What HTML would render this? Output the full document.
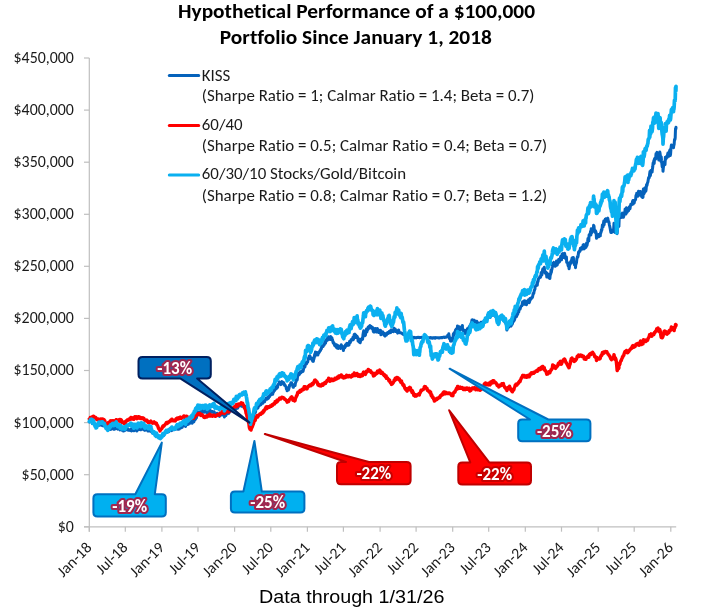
<!DOCTYPE html>
<html><head><meta charset="utf-8"><title>Hypothetical Performance</title>
<style>html,body{margin:0;padding:0;background:#fff;}svg text{font-variant-ligatures:none;font-feature-settings:"liga" 0,"clig" 0;}body{width:702px;height:612px;position:relative;overflow:hidden;}</style>
</head><body>
<svg width="702" height="612" viewBox="0 0 702 612" style="position:absolute;left:0;top:0;will-change:transform">
<defs><filter id="gb" x="-20%" y="-40%" width="140%" height="180%"><feGaussianBlur stdDeviation="0.75"/></filter></defs>
<g stroke="#bfbfbf" stroke-width="1.2" fill="none" shape-rendering="auto">
<line x1="89.3" y1="58.0" x2="89.3" y2="531.8"/>
<line x1="84.0" y1="526.8" x2="676.2" y2="526.8"/>
<line x1="84.0" y1="526.8" x2="89.3" y2="526.8"/>
<line x1="84.0" y1="474.7" x2="89.3" y2="474.7"/>
<line x1="84.0" y1="422.6" x2="89.3" y2="422.6"/>
<line x1="84.0" y1="370.5" x2="89.3" y2="370.5"/>
<line x1="84.0" y1="318.4" x2="89.3" y2="318.4"/>
<line x1="84.0" y1="266.3" x2="89.3" y2="266.3"/>
<line x1="84.0" y1="214.3" x2="89.3" y2="214.3"/>
<line x1="84.0" y1="162.2" x2="89.3" y2="162.2"/>
<line x1="84.0" y1="110.1" x2="89.3" y2="110.1"/>
<line x1="84.0" y1="58.0" x2="89.3" y2="58.0"/>
<line x1="89.3" y1="526.8" x2="89.3" y2="531.7"/>
<line x1="125.3" y1="526.8" x2="125.3" y2="531.7"/>
<line x1="161.9" y1="526.8" x2="161.9" y2="531.7"/>
<line x1="198.0" y1="526.8" x2="198.0" y2="531.7"/>
<line x1="234.6" y1="526.8" x2="234.6" y2="531.7"/>
<line x1="270.8" y1="526.8" x2="270.8" y2="531.7"/>
<line x1="307.4" y1="526.8" x2="307.4" y2="531.7"/>
<line x1="343.4" y1="526.8" x2="343.4" y2="531.7"/>
<line x1="380.1" y1="526.8" x2="380.1" y2="531.7"/>
<line x1="416.1" y1="526.8" x2="416.1" y2="531.7"/>
<line x1="452.7" y1="526.8" x2="452.7" y2="531.7"/>
<line x1="488.7" y1="526.8" x2="488.7" y2="531.7"/>
<line x1="525.3" y1="526.8" x2="525.3" y2="531.7"/>
<line x1="561.5" y1="526.8" x2="561.5" y2="531.7"/>
<line x1="598.2" y1="526.8" x2="598.2" y2="531.7"/>
<line x1="634.2" y1="526.8" x2="634.2" y2="531.7"/>
<line x1="670.8" y1="526.8" x2="670.8" y2="531.7"/>
</g>
<g font-family="Carlito, 'Liberation Sans', sans-serif" font-size="15.5" fill="#1a1a1a">
<text transform="translate(73.9,531.7)" text-anchor="end" textLength="16.13" lengthAdjust="spacingAndGlyphs">$0</text>
<text transform="translate(73.9,479.6)" text-anchor="end" textLength="52.34" lengthAdjust="spacingAndGlyphs">$50,000</text>
<text transform="translate(73.9,427.5)" text-anchor="end" textLength="60.39" lengthAdjust="spacingAndGlyphs">$100,000</text>
<text transform="translate(73.9,375.4)" text-anchor="end" textLength="60.39" lengthAdjust="spacingAndGlyphs">$150,000</text>
<text transform="translate(73.9,323.3)" text-anchor="end" textLength="60.39" lengthAdjust="spacingAndGlyphs">$200,000</text>
<text transform="translate(73.9,271.2)" text-anchor="end" textLength="60.39" lengthAdjust="spacingAndGlyphs">$250,000</text>
<text transform="translate(73.9,219.2)" text-anchor="end" textLength="60.39" lengthAdjust="spacingAndGlyphs">$300,000</text>
<text transform="translate(73.9,167.1)" text-anchor="end" textLength="60.39" lengthAdjust="spacingAndGlyphs">$350,000</text>
<text transform="translate(73.9,115.0)" text-anchor="end" textLength="60.39" lengthAdjust="spacingAndGlyphs">$400,000</text>
<text transform="translate(73.9,62.9)" text-anchor="end" textLength="60.39" lengthAdjust="spacingAndGlyphs">$450,000</text>
<text transform="translate(92.5,548.5) rotate(-45)" text-anchor="end" textLength="41.38" lengthAdjust="spacingAndGlyphs">Jan-18</text>
<text transform="translate(128.5,548.5) rotate(-45)" text-anchor="end" textLength="37.48" lengthAdjust="spacingAndGlyphs">Jul-18</text>
<text transform="translate(165.1,548.5) rotate(-45)" text-anchor="end" textLength="41.38" lengthAdjust="spacingAndGlyphs">Jan-19</text>
<text transform="translate(201.2,548.5) rotate(-45)" text-anchor="end" textLength="37.48" lengthAdjust="spacingAndGlyphs">Jul-19</text>
<text transform="translate(237.8,548.5) rotate(-45)" text-anchor="end" textLength="41.38" lengthAdjust="spacingAndGlyphs">Jan-20</text>
<text transform="translate(274.0,548.5) rotate(-45)" text-anchor="end" textLength="37.48" lengthAdjust="spacingAndGlyphs">Jul-20</text>
<text transform="translate(310.6,548.5) rotate(-45)" text-anchor="end" textLength="41.38" lengthAdjust="spacingAndGlyphs">Jan-21</text>
<text transform="translate(346.6,548.5) rotate(-45)" text-anchor="end" textLength="37.48" lengthAdjust="spacingAndGlyphs">Jul-21</text>
<text transform="translate(383.2,548.5) rotate(-45)" text-anchor="end" textLength="41.38" lengthAdjust="spacingAndGlyphs">Jan-22</text>
<text transform="translate(419.3,548.5) rotate(-45)" text-anchor="end" textLength="37.48" lengthAdjust="spacingAndGlyphs">Jul-22</text>
<text transform="translate(455.9,548.5) rotate(-45)" text-anchor="end" textLength="41.38" lengthAdjust="spacingAndGlyphs">Jan-23</text>
<text transform="translate(491.9,548.5) rotate(-45)" text-anchor="end" textLength="37.48" lengthAdjust="spacingAndGlyphs">Jul-23</text>
<text transform="translate(528.5,548.5) rotate(-45)" text-anchor="end" textLength="41.38" lengthAdjust="spacingAndGlyphs">Jan-24</text>
<text transform="translate(564.7,548.5) rotate(-45)" text-anchor="end" textLength="37.48" lengthAdjust="spacingAndGlyphs">Jul-24</text>
<text transform="translate(601.4,548.5) rotate(-45)" text-anchor="end" textLength="41.38" lengthAdjust="spacingAndGlyphs">Jan-25</text>
<text transform="translate(637.4,548.5) rotate(-45)" text-anchor="end" textLength="37.48" lengthAdjust="spacingAndGlyphs">Jul-25</text>
<text transform="translate(674.0,548.5) rotate(-45)" text-anchor="end" textLength="41.38" lengthAdjust="spacingAndGlyphs">Jan-26</text>
</g>
<g fill="none" stroke-width="3.2" stroke-linejoin="round" stroke-linecap="round">
<polyline stroke="#0562bb" stroke-width="3.0" points="89.3,422.0 89.7,421.9 90.0,421.8 90.3,420.9 90.7,421.7 91.0,420.2 91.4,421.5 91.8,420.7 92.1,421.1 92.5,423.8 92.8,421.7 93.0,421.0 93.2,421.9 93.5,421.5 93.8,422.5 94.2,423.3 94.5,423.8 94.9,424.0 95.2,424.7 95.6,424.6 96.0,425.6 96.0,426.0 96.3,424.9 96.7,426.1 97.0,425.4 97.3,425.7 97.7,425.2 98.0,425.6 98.4,424.2 98.8,425.1 99.1,424.6 99.5,425.3 99.8,424.4 100.0,424.0 100.2,424.2 100.5,423.1 100.8,424.5 101.2,424.1 101.5,425.2 101.9,425.3 102.2,424.5 102.6,425.7 103.0,425.6 103.3,425.4 103.7,425.8 104.0,425.5 104.3,425.4 104.7,425.4 105.0,426.0 105.0,426.0 105.4,426.9 105.8,426.8 106.1,427.3 106.5,427.0 106.8,427.7 107.2,426.5 107.5,427.2 107.8,428.0 108.2,426.7 108.5,427.7 108.9,427.8 109.2,428.0 109.6,428.4 110.0,429.3 110.0,428.0 110.3,426.9 110.7,429.6 111.0,429.1 111.3,428.5 111.7,428.4 112.0,428.5 112.4,427.2 112.8,427.8 113.1,428.3 113.5,429.3 113.8,427.8 114.2,428.7 114.5,429.2 114.8,427.7 115.0,428.0 115.2,428.5 115.5,428.6 115.9,428.7 116.2,427.2 116.6,427.3 117.0,428.0 117.3,428.4 117.7,429.1 118.0,427.7 118.3,428.9 118.7,428.0 119.0,427.1 119.4,427.0 119.8,428.4 120.1,429.9 120.5,429.4 120.5,428.5 120.8,428.3 121.2,428.5 121.5,429.1 121.8,430.1 122.2,429.5 122.5,429.9 122.9,430.2 123.2,429.0 123.6,431.1 124.0,429.5 124.3,428.9 124.7,429.3 125.0,429.5 125.3,430.3 125.7,429.6 126.0,428.3 126.4,428.5 126.8,428.9 127.1,429.5 127.5,429.7 127.8,429.0 128.2,430.3 128.5,429.9 128.8,429.9 129.2,430.2 129.6,430.0 129.9,430.3 130.0,429.8 130.2,429.7 130.6,429.3 130.9,429.2 131.3,430.9 131.7,430.9 132.0,429.9 132.3,429.5 132.7,428.8 133.1,429.4 133.4,429.7 133.8,430.8 134.1,430.2 134.4,429.0 134.8,428.5 135.0,429.8 135.2,430.1 135.5,429.5 135.8,428.0 136.2,429.5 136.6,429.0 136.9,430.9 137.2,430.4 137.6,429.9 137.9,429.7 138.3,427.8 138.7,429.1 139.0,428.0 139.3,429.5 139.7,427.9 140.0,429.0 140.1,428.0 140.4,428.9 140.8,429.8 141.1,428.6 141.4,428.2 141.8,429.3 142.2,429.3 142.5,428.7 142.8,428.8 143.2,428.4 143.5,429.0 143.6,428.0 143.9,428.3 144.2,430.0 144.6,430.0 144.9,430.3 145.3,429.9 145.7,429.3 146.0,428.8 146.3,429.8 146.7,429.2 147.1,428.3 147.4,429.9 147.8,430.9 148.0,430.0 148.1,430.6 148.4,431.1 148.8,431.1 149.2,429.7 149.5,430.8 149.8,431.0 150.2,430.6 150.6,429.7 150.9,430.4 151.2,431.0 151.6,432.0 151.9,431.9 152.3,432.9 152.7,432.4 153.0,432.5 153.3,433.4 153.7,433.1 154.1,431.9 154.4,433.8 154.8,433.6 155.1,434.6 155.4,435.5 155.8,435.3 156.2,436.2 156.5,433.5 156.8,434.8 157.0,435.5 157.2,435.6 157.6,435.6 157.9,435.7 158.2,436.7 158.6,436.6 158.9,437.4 159.3,436.2 159.7,436.9 160.0,436.6 160.3,437.5 160.4,438.0 160.7,437.9 161.1,436.7 161.4,436.7 161.8,436.6 162.1,436.5 162.4,435.8 162.8,434.4 163.0,435.0 163.2,434.9 163.5,435.0 163.8,435.4 164.2,433.9 164.6,434.4 164.9,433.5 165.2,433.3 165.6,432.9 165.9,432.0 166.3,431.0 166.7,430.5 167.0,431.5 167.3,432.3 167.7,431.2 168.1,430.8 168.4,430.9 168.8,431.7 169.1,429.8 169.4,430.6 169.8,430.4 170.2,430.0 170.5,428.9 170.7,430.0 170.8,429.1 171.2,429.4 171.6,430.6 171.9,429.0 172.2,428.8 172.6,429.1 172.9,428.9 173.3,428.8 173.7,429.4 174.0,429.7 174.2,429.2 174.3,429.3 174.7,428.7 175.1,429.3 175.4,429.2 175.8,429.1 176.1,428.3 176.4,427.9 176.8,428.1 177.2,427.8 177.5,429.1 177.8,429.1 178.2,429.3 178.6,429.3 178.9,428.8 179.2,428.5 179.2,429.1 179.6,428.7 179.9,427.6 180.3,426.4 180.7,427.1 181.0,427.3 181.3,427.7 181.7,426.5 182.1,427.3 182.4,426.6 182.8,426.2 183.1,425.4 183.4,425.0 183.5,425.6 183.8,424.5 184.2,424.5 184.5,423.8 184.8,425.4 185.2,426.2 185.6,426.4 185.9,425.1 186.2,423.1 186.6,423.5 186.9,423.6 187.3,424.4 187.7,424.5 188.0,423.0 188.3,424.3 188.5,423.5 188.7,423.6 189.1,422.5 189.4,422.0 189.8,422.5 190.1,423.1 190.4,422.9 190.8,421.7 191.2,422.8 191.5,422.2 191.8,421.3 192.2,423.2 192.6,421.8 192.9,422.0 193.2,421.1 193.5,421.4 193.6,421.4 193.9,421.8 194.3,419.5 194.7,420.0 195.0,419.9 195.3,419.2 195.6,419.2 195.7,418.8 196.1,417.5 196.4,418.0 196.8,416.0 197.1,415.8 197.4,413.4 197.7,412.8 197.8,412.1 198.2,412.8 198.5,412.1 198.8,412.2 199.2,413.0 199.6,413.0 199.9,412.0 200.2,412.3 200.6,413.8 200.9,413.6 201.3,411.6 201.7,410.7 202.0,411.8 202.3,410.5 202.7,411.4 203.1,411.2 203.4,411.2 203.8,412.3 204.1,411.2 204.4,410.6 204.8,411.9 205.2,411.1 205.5,410.4 205.8,411.9 206.2,411.7 206.6,410.5 206.9,411.2 207.2,413.3 207.6,412.2 207.9,412.0 208.3,413.3 208.4,412.1 208.7,412.7 209.0,412.2 209.3,412.2 209.7,410.8 210.1,410.3 210.4,411.4 210.8,411.8 211.0,411.0 211.1,412.2 211.4,412.3 211.8,411.5 212.2,411.8 212.5,411.6 212.8,412.1 213.2,412.3 213.6,412.4 213.9,412.0 214.0,413.0 214.2,411.8 214.6,413.8 214.9,414.5 215.3,414.3 215.7,415.0 216.0,415.0 216.3,414.6 216.7,414.4 217.1,413.2 217.4,414.3 217.8,414.1 218.1,415.3 218.4,414.7 218.8,415.3 219.2,415.2 219.5,416.4 219.6,415.3 219.8,414.7 220.2,413.6 220.6,415.2 220.9,414.9 221.2,414.3 221.6,414.8 221.9,414.3 222.3,413.2 222.7,414.6 223.0,414.2 223.3,413.3 223.7,415.4 224.1,415.1 224.4,416.9 224.8,414.7 225.0,413.9 225.1,414.6 225.4,414.6 225.8,415.7 226.2,413.5 226.5,414.0 226.8,413.3 227.2,413.2 227.6,413.6 227.9,412.5 228.0,413.3 228.2,411.6 228.6,413.2 228.9,413.3 229.3,412.1 229.7,411.3 230.0,409.2 230.3,411.0 230.7,411.0 231.1,409.7 231.4,410.5 231.8,409.7 232.1,409.1 232.4,408.7 232.8,409.7 233.2,409.0 233.5,409.0 233.8,408.0 234.2,407.9 234.6,408.0 234.9,407.8 235.0,407.5 235.2,406.8 235.6,407.7 235.9,409.2 236.3,405.5 236.7,407.1 237.0,406.6 237.3,407.9 237.7,408.2 238.1,406.0 238.4,406.2 238.8,406.1 239.0,406.0 239.1,406.0 239.4,405.0 239.8,405.9 240.2,405.6 240.5,405.1 240.8,405.3 241.2,404.2 241.6,405.8 241.9,406.3 242.2,405.2 242.6,404.2 242.9,404.9 243.0,405.0 243.3,405.6 243.7,406.2 244.0,406.6 244.3,407.9 244.7,406.4 245.1,406.4 245.4,406.3 245.8,406.7 246.0,408.0 246.1,407.6 246.4,407.8 246.8,409.5 247.2,413.0 247.5,412.3 247.8,412.9 248.0,414.0 248.2,416.1 248.6,417.2 248.9,417.2 249.2,418.8 249.5,420.0 249.6,419.6 249.9,422.4 250.3,422.0 250.5,423.5 250.7,422.8 251.0,421.5 251.3,421.4 251.7,420.8 252.1,420.8 252.4,420.0 252.5,420.5 252.8,418.6 253.1,418.9 253.4,418.2 253.8,415.5 254.2,413.3 254.4,413.0 254.5,412.2 254.8,412.0 255.2,412.8 255.6,411.6 255.9,409.4 256.2,408.7 256.6,407.8 256.9,407.0 257.3,407.2 257.4,407.5 257.6,408.3 258.0,407.8 258.4,406.6 258.7,405.1 259.1,405.2 259.4,405.5 259.8,404.0 260.1,403.8 260.4,404.6 260.5,404.5 260.8,404.9 261.1,404.3 261.5,403.4 261.9,402.9 262.2,402.9 262.6,401.9 262.9,403.2 263.2,401.6 263.6,400.1 263.9,401.4 264.2,400.5 264.3,400.0 264.6,401.8 265.0,400.4 265.4,400.0 265.7,399.3 266.1,398.2 266.4,397.9 266.8,399.1 266.8,398.5 267.1,399.2 267.4,398.9 267.8,398.0 268.1,398.5 268.3,397.3 268.5,398.3 268.9,396.2 269.2,396.1 269.6,396.6 269.9,395.4 270.2,394.5 270.6,394.0 270.9,394.0 271.3,394.7 271.6,393.8 272.0,392.7 272.4,392.6 272.6,393.0 272.7,394.2 273.1,391.7 273.4,392.4 273.8,391.2 274.1,390.4 274.4,390.8 274.8,390.1 275.1,387.3 275.5,389.2 275.9,387.9 276.2,387.7 276.6,388.4 276.9,386.2 277.2,387.1 277.6,387.4 277.9,384.4 278.3,384.3 278.5,384.0 278.6,384.1 279.0,383.4 279.4,381.9 279.7,383.0 280.1,383.7 280.4,383.0 280.8,384.6 281.1,383.0 281.4,382.4 281.8,381.6 282.1,381.7 282.5,382.1 282.9,382.3 283.0,382.6 283.2,383.3 283.6,382.5 283.9,384.4 284.2,383.7 284.6,385.4 284.9,385.5 285.3,385.4 285.6,386.1 286.0,386.6 286.4,389.0 286.7,387.8 287.1,390.8 287.4,390.0 287.8,389.9 288.1,387.8 288.4,390.0 288.8,388.7 289.1,387.7 289.5,385.2 289.9,385.6 290.2,384.6 290.6,384.8 290.9,382.8 291.0,384.0 291.2,382.9 291.6,382.7 291.9,384.2 292.3,384.1 292.6,384.8 293.0,387.1 293.4,387.3 293.7,385.4 294.1,385.3 294.4,385.0 294.7,385.6 294.8,384.8 295.1,385.5 295.4,383.1 295.8,382.5 296.1,380.8 296.5,379.4 296.9,380.4 297.2,379.8 297.6,376.0 297.9,374.7 298.2,373.5 298.3,374.6 298.6,375.2 298.9,374.1 299.3,374.5 299.6,374.1 300.0,371.8 300.4,373.1 300.7,372.7 301.1,372.7 301.4,371.4 301.8,371.9 302.1,371.4 302.4,370.5 302.8,371.5 302.9,371.2 303.1,371.2 303.5,369.2 303.9,367.6 304.2,366.0 304.6,366.1 304.9,367.1 305.2,365.3 305.6,363.1 305.9,362.6 306.3,363.2 306.6,363.8 307.0,362.8 307.4,362.1 307.7,362.1 308.1,359.1 308.4,358.3 308.8,358.0 309.1,356.3 309.4,356.7 309.7,356.3 309.8,355.7 310.1,356.7 310.5,358.8 310.9,359.0 311.2,358.9 311.6,358.3 311.9,358.0 312.2,358.6 312.6,360.9 312.9,359.6 313.2,360.9 313.3,361.4 313.6,359.7 314.0,358.7 314.4,356.0 314.7,354.3 315.1,356.2 315.4,352.0 315.5,352.9 315.8,352.2 316.1,352.5 316.4,353.0 316.8,352.4 317.1,352.4 317.5,353.6 317.9,355.0 318.2,353.5 318.6,353.1 318.9,352.9 319.2,352.2 319.6,351.8 319.9,350.8 320.3,350.4 320.6,350.3 321.0,348.7 321.4,348.8 321.7,346.2 322.1,346.6 322.3,346.0 322.4,345.7 322.8,346.1 323.1,346.5 323.4,345.2 323.8,344.9 324.1,345.1 324.5,344.0 324.9,341.1 325.2,342.3 325.6,343.2 325.8,341.4 325.9,341.2 326.2,341.1 326.6,339.4 326.9,339.0 327.3,338.3 327.6,340.2 328.0,339.3 328.4,338.6 328.7,336.8 329.1,339.1 329.4,338.3 329.8,339.0 330.0,337.5 330.1,339.6 330.4,337.7 330.8,336.6 331.1,338.2 331.4,338.3 331.5,339.7 331.9,337.8 332.2,339.5 332.6,339.9 332.9,341.8 333.2,342.9 333.6,343.5 333.9,342.7 334.3,344.2 334.6,345.2 334.7,345.6 335.0,345.2 335.4,345.5 335.7,344.7 336.1,347.1 336.4,344.8 336.8,347.9 337.1,344.9 337.4,347.1 337.8,345.8 338.1,348.4 338.5,347.4 338.9,346.1 339.2,346.7 339.6,347.5 339.9,346.8 340.2,347.9 340.4,348.0 340.6,348.4 340.9,347.6 341.3,344.8 341.6,346.6 342.0,348.0 342.4,347.4 342.7,348.0 343.1,346.7 343.4,350.6 343.8,348.2 344.1,347.9 344.4,346.7 344.8,347.9 345.1,345.7 345.5,344.8 345.9,346.2 346.1,345.6 346.2,346.1 346.6,343.6 346.9,343.3 347.2,344.4 347.6,343.7 347.9,345.2 348.3,344.0 348.6,343.4 349.0,345.1 349.4,342.3 349.7,341.3 350.1,341.4 350.4,342.5 350.8,340.6 351.0,339.9 351.1,341.0 351.4,339.6 351.8,339.1 352.1,339.1 352.5,338.3 352.9,337.4 353.2,339.8 353.6,339.1 353.9,336.3 354.2,334.4 354.6,334.5 354.9,334.2 355.3,335.2 355.6,337.5 355.9,335.0 356.0,336.4 356.4,336.1 356.7,336.3 357.1,336.3 357.4,337.4 357.8,337.6 358.1,341.1 358.4,339.5 358.8,339.0 359.1,341.9 359.5,342.3 359.9,341.5 360.0,342.3 360.2,342.8 360.6,340.9 360.9,339.3 361.2,339.8 361.6,339.9 361.9,339.0 362.3,337.9 362.6,339.2 363.0,334.4 363.4,332.2 363.7,330.8 364.0,334.2 364.1,332.5 364.4,334.4 364.8,335.7 365.1,334.0 365.4,335.3 365.8,332.2 366.1,332.6 366.5,328.9 366.9,331.9 367.2,330.2 367.6,328.9 367.9,329.6 368.2,327.0 368.6,327.7 368.9,328.4 369.3,326.2 369.6,325.9 369.8,326.0 370.0,325.6 370.4,327.7 370.7,326.1 371.1,327.2 371.4,328.1 371.8,327.6 372.1,328.6 372.4,327.3 372.8,327.7 373.1,330.6 373.5,331.9 373.9,330.1 373.9,330.1 374.2,331.2 374.6,331.9 374.9,331.9 375.2,328.5 375.6,328.8 375.9,330.8 376.3,331.4 376.6,331.6 377.0,332.1 377.4,328.4 377.7,331.6 378.1,331.1 378.4,330.0 378.8,331.2 379.1,332.6 379.4,331.2 379.8,331.5 380.1,331.2 380.4,331.7 380.5,330.2 380.9,334.8 381.2,333.8 381.6,333.0 381.9,332.1 382.2,332.7 382.6,332.9 382.9,331.9 383.3,334.1 383.6,334.2 384.0,335.1 384.4,333.5 384.7,334.6 385.1,336.1 385.3,335.0 385.4,335.5 385.8,334.9 386.1,333.5 386.4,335.1 386.8,333.8 387.1,332.9 387.5,332.6 387.9,333.7 388.2,332.6 388.6,333.2 388.9,333.0 389.2,331.5 389.6,331.2 389.9,331.0 390.3,332.4 390.6,332.6 391.0,330.0 391.4,330.2 391.7,330.0 391.8,330.1 392.1,331.6 392.4,330.3 392.8,330.2 393.1,331.0 393.4,331.6 393.8,329.4 394.1,328.1 394.5,330.2 394.9,330.5 395.0,331.0 395.2,329.0 395.6,330.0 395.9,331.6 396.2,330.5 396.6,330.5 396.9,330.9 397.3,331.9 397.6,333.1 398.0,331.1 398.4,331.7 398.7,330.0 399.1,332.3 399.4,332.5 399.8,332.4 400.1,332.8 400.4,332.7 400.4,332.8 400.8,332.8 401.1,332.8 401.5,333.2 401.9,333.4 402.2,333.5 402.6,333.9 402.9,334.1 403.2,334.4 403.6,334.3 403.9,334.3 404.3,334.8 404.6,334.9 405.0,335.3 405.4,335.5 405.7,335.3 405.8,335.4 406.1,335.4 406.4,335.4 406.8,335.7 407.1,336.1 407.4,336.0 407.8,336.1 408.1,336.3 408.5,336.3 408.9,336.5 409.2,336.6 409.6,336.6 409.9,337.2 410.0,337.0 410.2,337.2 410.6,337.1 410.9,337.4 411.3,337.5 411.6,337.6 412.0,337.6 412.4,337.2 412.7,337.5 413.0,337.5 413.1,337.4 413.4,337.5 413.8,338.0 414.1,337.3 414.4,337.5 414.8,337.4 415.1,337.6 415.5,337.7 415.9,337.5 416.2,337.9 416.6,337.6 416.9,337.7 417.2,337.6 417.6,337.5 417.9,337.3 418.3,337.4 418.6,337.6 419.0,337.4 419.4,337.8 419.7,337.6 420.1,337.4 420.4,337.6 420.8,337.4 421.1,337.3 421.4,337.3 421.8,337.6 422.0,337.5 422.1,337.5 422.5,337.5 422.9,337.6 423.2,337.9 423.6,337.8 423.9,337.9 424.2,337.7 424.6,337.8 424.9,337.5 425.3,337.5 425.6,337.6 426.0,337.7 426.4,337.7 426.7,337.7 427.1,337.8 427.4,337.9 427.8,338.0 428.1,337.8 428.4,337.8 428.8,337.8 429.1,337.7 429.5,337.8 429.9,337.7 430.2,337.9 430.6,337.5 430.9,337.9 431.0,338.0 431.2,338.1 431.6,337.8 431.9,337.7 432.3,338.1 432.6,337.8 433.0,337.8 433.4,338.0 433.7,337.8 434.1,337.7 434.4,337.9 434.8,337.8 435.1,338.1 435.4,337.8 435.8,337.6 436.1,337.8 436.5,337.7 436.9,337.7 437.2,337.8 437.6,337.8 437.9,337.7 438.2,337.8 438.6,338.0 438.9,337.7 439.3,337.8 439.6,338.0 440.0,337.8 440.4,337.7 440.7,337.6 441.1,337.5 441.4,337.8 441.8,337.6 442.1,337.7 442.4,337.8 442.8,337.4 443.1,337.3 443.5,337.2 443.9,337.1 444.2,337.4 444.6,337.3 444.9,337.5 445.2,337.0 445.6,337.1 445.9,337.3 446.3,337.3 446.6,337.0 447.0,337.0 447.4,336.6 447.7,335.4 448.1,335.5 448.4,335.5 448.8,333.8 448.8,334.3 449.1,335.5 449.4,338.6 449.8,337.7 450.1,337.7 450.5,341.1 450.8,341.2 450.9,340.6 451.2,340.5 451.6,341.0 451.9,340.4 452.2,339.2 452.6,338.0 452.9,339.9 453.3,334.4 453.6,333.6 454.0,335.5 454.4,332.5 454.7,332.4 455.1,333.3 455.4,330.3 455.8,331.3 456.1,329.1 456.4,329.7 456.8,328.8 457.1,332.7 457.5,325.9 457.9,327.8 458.2,327.2 458.6,327.5 458.6,326.5 458.9,329.9 459.2,328.1 459.6,326.9 459.9,327.8 460.3,327.5 460.6,329.7 461.0,328.1 461.4,327.3 461.7,329.3 462.1,328.5 462.4,325.4 462.5,329.4 462.8,329.7 463.1,329.7 463.4,331.0 463.8,330.8 464.1,331.3 464.5,330.3 464.9,333.1 465.2,333.5 465.5,333.3 465.6,331.9 465.9,330.6 466.2,331.1 466.6,331.5 466.9,332.3 467.3,328.9 467.6,328.5 468.0,329.5 468.4,329.8 468.7,327.6 469.1,327.4 469.4,326.5 469.8,328.6 470.1,327.6 470.4,324.7 470.8,324.7 471.1,323.2 471.5,322.9 471.9,320.1 472.2,320.6 472.6,319.8 472.8,320.6 472.9,322.3 473.2,322.7 473.6,320.8 473.9,322.1 474.3,320.3 474.6,321.0 475.0,322.7 475.4,323.7 475.7,324.2 476.1,322.1 476.3,322.5 476.4,323.1 476.8,321.2 477.1,323.6 477.4,322.1 477.8,324.2 478.1,324.0 478.5,324.6 478.9,323.4 479.2,324.3 479.6,324.5 479.9,326.4 480.0,326.0 480.2,326.2 480.6,325.0 480.9,322.2 481.3,324.1 481.6,323.2 482.0,322.2 482.4,323.9 482.7,323.7 483.1,324.4 483.4,322.4 483.8,322.6 484.1,322.1 484.4,320.3 484.7,322.0 484.8,320.0 485.1,321.9 485.5,319.2 485.9,319.3 486.2,321.0 486.6,320.9 486.9,319.6 487.2,318.1 487.6,318.4 487.9,314.7 488.0,317.2 488.3,314.7 488.6,314.1 489.0,314.8 489.4,316.0 489.7,316.0 490.1,317.5 490.4,314.9 490.8,311.8 491.1,313.2 491.2,313.0 491.4,313.4 491.8,315.3 492.1,314.6 492.5,315.3 492.9,312.0 493.2,312.4 493.6,314.3 493.9,312.5 494.2,313.4 494.5,313.5 494.6,314.4 494.9,314.8 495.3,316.4 495.6,314.6 496.0,314.7 496.4,314.8 496.7,317.0 497.0,316.5 497.1,319.0 497.4,318.8 497.8,321.8 498.1,322.2 498.2,322.5 498.4,323.0 498.8,322.7 499.1,320.6 499.5,317.6 499.9,318.7 500.2,316.5 500.6,317.7 500.9,317.8 501.2,319.0 501.6,318.0 501.9,316.0 502.3,318.3 502.6,318.6 502.7,318.5 503.0,319.0 503.4,317.9 503.7,320.3 504.1,320.9 504.4,319.8 504.8,322.1 505.1,321.0 505.4,321.4 505.8,323.3 506.1,323.5 506.5,325.8 506.9,330.1 507.2,327.5 507.6,328.4 507.9,325.5 508.2,327.5 508.6,327.2 508.9,326.2 509.3,325.9 509.6,324.2 510.0,325.2 510.4,324.7 510.7,325.7 510.8,325.3 511.1,326.1 511.4,324.2 511.8,324.1 512.1,324.3 512.5,323.5 512.8,321.1 513.1,321.0 513.5,321.3 513.9,321.1 514.2,318.9 514.5,320.0 514.9,318.4 515.0,318.5 515.2,314.9 515.6,317.0 516.0,315.1 516.3,316.2 516.6,316.5 517.0,314.7 517.4,313.4 517.7,314.5 518.0,310.4 518.4,310.1 518.8,312.0 518.9,309.3 519.1,310.0 519.5,308.6 519.8,309.1 520.1,309.0 520.5,307.6 520.9,306.4 521.2,306.4 521.5,305.8 521.9,305.8 522.2,303.8 522.6,301.8 522.8,304.0 523.0,303.2 523.3,303.1 523.6,304.2 524.0,303.2 524.4,300.8 524.7,304.3 525.0,303.3 525.4,301.9 525.8,301.0 526.1,302.2 526.5,304.7 526.8,302.6 527.1,301.4 527.5,301.2 527.9,301.1 528.1,301.4 528.2,301.1 528.5,299.8 528.9,302.5 529.2,302.7 529.6,301.7 530.0,298.6 530.3,300.0 530.6,299.1 531.0,298.5 531.4,298.6 531.7,297.5 532.0,297.5 532.0,297.8 532.4,297.4 532.8,295.7 533.1,293.5 533.5,293.7 533.8,293.4 534.1,291.4 534.5,290.0 534.9,289.3 535.2,286.6 535.5,286.1 535.9,285.8 536.2,285.7 536.6,285.1 537.0,283.4 537.3,285.2 537.6,281.4 538.0,281.7 538.4,279.1 538.7,278.4 539.0,278.5 539.4,277.9 539.8,276.9 539.8,276.6 540.1,276.7 540.5,277.3 540.8,276.5 541.1,272.9 541.5,272.2 541.9,274.7 542.2,272.4 542.5,270.1 542.9,268.8 543.2,270.9 543.6,272.0 543.8,270.0 544.0,268.3 544.3,267.3 544.6,271.3 545.0,271.7 545.4,273.3 545.7,272.4 546.0,272.2 546.4,272.8 546.8,277.1 547.0,275.3 547.1,276.9 547.5,275.1 547.8,276.3 548.1,274.1 548.5,277.4 548.9,274.7 549.2,278.1 549.5,278.2 549.6,276.6 549.9,278.5 550.2,274.8 550.6,274.7 551.0,270.2 551.3,272.6 551.6,270.5 552.0,268.9 552.4,266.5 552.7,263.2 552.9,264.8 553.0,264.4 553.4,263.6 553.8,262.4 554.1,264.6 554.5,265.5 554.8,265.3 555.1,266.3 555.5,266.0 555.9,263.2 556.2,263.9 556.5,260.9 556.8,263.5 556.9,264.0 557.2,265.1 557.6,262.0 558.0,263.4 558.3,261.1 558.6,259.6 559.0,262.1 559.4,261.9 559.7,261.3 560.0,259.4 560.0,258.6 560.4,258.0 560.8,256.3 561.1,257.7 561.5,259.8 561.8,256.4 562.1,254.0 562.5,254.0 562.9,253.5 563.2,255.0 563.5,255.0 563.9,257.5 564.2,255.7 564.4,253.5 564.6,253.4 565.0,255.7 565.3,256.1 565.6,258.5 566.0,259.1 566.4,256.9 566.7,262.3 567.0,262.1 567.4,262.4 567.8,264.0 568.1,265.6 568.5,265.4 568.8,266.8 569.1,268.8 569.5,266.1 569.9,264.6 570.2,264.2 570.5,262.0 570.9,263.2 571.2,260.7 571.6,261.2 572.0,258.1 572.3,259.5 572.6,260.2 573.0,259.3 573.2,259.4 573.4,257.6 573.7,262.7 574.0,262.3 574.4,264.7 574.8,262.7 575.1,262.7 575.4,265.3 575.5,267.7 575.8,264.4 576.1,264.0 576.5,262.3 576.9,258.5 577.2,258.0 577.5,256.4 577.9,257.1 578.2,255.2 578.6,251.9 579.0,252.6 579.1,252.0 579.3,252.0 579.6,250.7 580.0,251.3 580.4,248.3 580.7,248.4 581.0,248.0 581.4,247.6 581.8,249.3 582.1,248.8 582.5,248.4 582.8,247.6 583.1,245.0 583.5,244.7 583.9,247.5 584.2,248.9 584.5,245.3 584.9,244.8 585.2,245.1 585.6,247.6 586.0,247.3 586.3,245.0 586.5,246.2 586.6,243.0 587.0,245.6 587.4,243.3 587.7,241.2 588.0,238.4 588.4,241.1 588.8,240.9 589.1,234.9 589.4,235.9 589.5,234.9 589.8,234.0 590.1,234.9 590.5,231.5 590.9,234.9 591.2,228.8 591.5,233.2 591.9,232.4 592.2,229.7 592.6,229.5 593.0,228.4 593.3,229.0 593.6,225.3 593.8,227.1 594.0,225.9 594.4,230.6 594.7,230.8 595.0,232.3 595.4,230.8 595.8,231.5 596.1,232.7 596.5,238.3 596.8,235.9 597.1,236.6 597.5,237.0 597.9,235.1 598.2,235.6 598.5,234.5 598.9,236.7 599.2,235.3 599.6,235.2 600.0,234.5 600.3,235.9 600.4,234.4 600.6,232.6 601.0,232.4 601.4,229.8 601.7,230.5 602.0,229.1 602.4,224.9 602.8,226.5 603.1,226.8 603.5,223.0 603.8,220.9 604.1,222.6 604.1,224.7 604.5,222.1 604.9,222.1 605.2,219.3 605.5,221.4 605.9,218.7 606.2,218.9 606.6,221.3 607.0,220.2 607.3,218.9 607.6,218.4 607.8,218.2 608.0,219.6 608.4,220.8 608.7,221.5 609.0,222.6 609.4,225.0 609.8,226.7 610.1,228.1 610.5,230.6 610.7,231.5 610.8,232.4 611.1,230.9 611.5,232.5 611.9,230.5 612.2,230.2 612.5,231.9 612.9,230.6 613.2,230.5 613.6,229.8 614.0,223.2 614.3,227.6 614.4,228.5 614.6,228.7 615.0,232.4 615.4,229.8 615.7,230.6 616.0,232.4 616.4,229.1 616.8,231.9 617.0,232.0 617.1,233.7 617.5,229.7 617.8,225.0 618.1,224.9 618.5,226.3 618.9,226.4 619.2,218.4 619.5,216.1 619.9,216.8 620.2,215.5 620.6,214.2 621.0,217.2 621.3,215.9 621.6,217.4 622.0,214.9 622.4,213.1 622.7,214.0 623.0,215.5 623.4,217.3 623.8,216.1 624.1,214.2 624.5,212.3 624.8,213.5 625.1,209.1 625.5,210.8 625.9,214.1 626.2,210.1 626.5,207.7 626.9,211.9 627.2,212.2 627.6,208.4 628.0,208.6 628.3,208.4 628.6,210.8 629.0,208.5 629.4,206.8 629.7,207.0 630.0,208.7 630.4,206.1 630.8,204.2 631.1,205.1 631.5,204.0 631.8,204.6 632.1,204.0 632.5,201.5 632.9,200.5 633.2,204.0 633.5,202.0 633.9,202.0 634.2,203.1 634.6,200.5 635.0,200.4 635.3,200.0 635.6,199.3 636.0,195.5 636.4,196.3 636.7,193.3 637.0,195.2 637.4,193.1 637.8,196.3 638.1,195.6 638.5,191.3 638.7,192.3 638.8,193.6 639.1,194.4 639.5,193.5 639.9,192.6 640.2,195.0 640.5,191.6 640.9,193.1 641.2,192.7 641.6,196.5 642.0,193.5 642.0,193.9 642.3,195.5 642.6,197.5 643.0,197.3 643.4,188.9 643.7,191.8 644.0,193.7 644.4,192.7 644.8,192.1 645.1,187.7 645.2,189.0 645.5,189.0 645.8,191.2 646.1,189.7 646.5,184.8 646.9,185.6 647.2,184.3 647.5,182.8 647.9,181.9 648.2,180.1 648.6,177.8 649.0,177.3 649.3,177.6 649.6,174.2 650.0,171.6 650.4,175.5 650.7,172.6 651.0,170.5 651.4,171.2 651.8,171.7 652.1,172.0 652.5,168.2 652.6,168.0 652.8,166.3 653.1,162.9 653.5,163.0 653.9,160.5 654.2,163.5 654.5,159.0 654.9,158.2 655.2,158.7 655.6,159.0 656.0,153.8 656.3,155.1 656.6,153.4 657.0,152.4 657.4,157.3 657.7,156.8 658.0,153.7 658.4,158.5 658.8,159.7 658.8,160.0 659.1,156.8 659.5,157.9 659.8,151.9 660.1,153.6 660.5,156.7 660.9,161.4 661.2,156.7 661.5,160.4 661.9,164.2 662.2,166.7 662.6,165.8 662.9,168.1 663.0,171.3 663.3,168.0 663.6,166.2 664.0,163.3 664.4,161.8 664.7,162.1 665.0,164.6 665.4,157.2 665.8,159.3 666.1,158.3 666.5,156.4 666.8,156.8 667.1,157.4 667.5,155.0 667.9,153.0 668.2,156.4 668.5,154.3 668.9,156.2 669.2,153.1 669.4,151.8 669.6,150.8 670.0,149.7 670.3,155.5 670.6,153.9 671.0,148.2 671.4,145.0 671.7,146.4 672.0,146.7 672.4,146.1 672.7,146.9 672.8,145.6 673.1,146.3 673.5,147.7 673.8,145.3 674.1,144.8 674.5,139.6 674.9,139.6 675.1,138.7 675.2,137.8 675.5,128.7 675.9,128.8 676.0,127.3"/>
<polyline stroke="#ff0000" stroke-width="3.4" points="89.3,419.0 89.7,418.8 90.0,418.6 90.3,417.5 90.7,417.7 91.0,417.4 91.4,417.1 91.8,417.2 92.1,416.9 92.5,419.1 92.8,417.6 93.2,417.8 93.5,416.1 93.8,416.3 93.9,416.5 94.2,416.9 94.5,416.9 94.9,417.6 95.2,417.5 95.6,417.4 96.0,418.6 96.3,418.2 96.7,419.5 97.0,419.7 97.3,419.8 97.4,419.5 97.7,419.4 98.0,419.9 98.4,419.1 98.8,419.7 99.1,419.3 99.5,420.4 99.8,419.7 100.2,419.5 100.5,419.1 100.8,419.9 101.2,419.4 101.5,419.8 101.9,419.7 102.2,419.0 102.5,419.0 102.6,419.3 103.0,419.8 103.3,420.4 103.7,420.0 104.0,419.6 104.3,420.3 104.7,420.6 105.0,421.5 105.4,422.6 105.8,422.8 106.1,423.1 106.5,423.2 106.8,423.8 107.2,423.9 107.2,423.4 107.5,423.6 107.8,423.8 108.2,423.1 108.5,422.4 108.9,422.9 109.2,422.4 109.6,422.7 110.0,422.2 110.3,421.0 110.7,422.3 111.0,421.0 111.3,421.4 111.7,421.4 112.0,420.7 112.4,421.0 112.8,420.8 113.1,420.8 113.5,421.7 113.8,421.4 114.2,421.0 114.5,421.8 114.8,421.2 115.2,421.3 115.4,420.8 115.5,421.7 115.9,421.3 116.2,419.6 116.6,419.8 117.0,420.6 117.3,420.3 117.7,421.2 118.0,420.5 118.3,420.5 118.7,420.7 119.0,419.8 119.4,419.6 119.8,420.3 120.1,421.3 120.5,420.9 120.5,420.0 120.8,419.6 121.2,419.9 121.5,420.4 121.8,422.5 122.2,421.6 122.5,421.6 122.9,422.4 123.2,422.2 123.6,423.2 124.0,422.4 124.3,422.1 124.7,422.4 124.8,423.0 125.0,423.6 125.3,423.0 125.7,422.7 126.0,421.0 126.4,420.8 126.8,420.8 127.1,420.1 127.5,420.4 127.8,419.8 128.2,420.2 128.5,420.1 128.8,419.2 129.0,419.0 129.2,419.2 129.6,419.1 129.9,419.3 130.2,418.6 130.6,418.5 130.9,417.4 131.3,418.8 131.7,419.0 132.0,418.7 132.3,418.3 132.7,417.9 133.1,418.4 133.4,418.1 133.8,419.3 134.1,418.8 134.4,417.6 134.8,416.8 135.2,418.0 135.5,417.4 135.8,416.9 136.2,417.2 136.6,416.7 136.7,417.4 136.9,418.7 137.2,418.5 137.6,417.6 137.9,418.2 138.3,417.0 138.7,417.3 139.0,416.8 139.3,417.9 139.7,417.1 140.1,417.4 140.4,418.6 140.8,418.6 141.1,417.7 141.4,417.8 141.8,418.6 142.2,418.5 142.5,418.0 142.8,417.8 143.2,418.0 143.5,418.7 143.6,418.3 143.9,418.4 144.2,419.9 144.6,420.0 144.9,420.5 145.3,420.1 145.7,420.8 146.0,420.5 146.3,420.3 146.7,420.0 147.1,420.4 147.4,421.3 147.8,422.2 148.1,422.6 148.4,422.3 148.8,422.6 149.2,421.9 149.3,422.4 149.5,422.1 149.8,422.0 150.2,422.1 150.6,421.4 150.9,421.0 151.2,421.9 151.6,422.7 151.9,422.4 152.3,422.7 152.7,423.2 153.0,422.7 153.3,422.8 153.5,422.4 153.7,422.3 154.1,421.9 154.4,423.1 154.8,422.7 155.1,423.3 155.4,423.2 155.8,423.3 156.0,423.2 156.2,424.0 156.5,423.3 156.8,425.0 157.2,425.0 157.6,425.7 157.9,426.4 158.2,427.5 158.6,428.4 158.9,429.2 159.3,428.8 159.7,429.9 160.0,430.9 160.3,430.0 160.7,429.7 161.1,429.2 161.4,428.9 161.8,428.7 162.1,428.2 162.4,427.0 162.8,426.2 163.2,425.8 163.3,426.0 163.5,426.6 163.8,426.2 164.2,425.3 164.6,425.2 164.9,424.8 165.2,424.5 165.6,423.8 165.9,423.6 166.3,422.6 166.7,422.5 167.0,423.5 167.1,422.8 167.3,423.6 167.7,422.8 168.1,422.2 168.4,422.0 168.8,422.2 169.1,421.7 169.4,421.7 169.8,421.3 170.2,420.8 170.5,420.3 170.7,420.7 170.8,420.0 171.2,419.8 171.6,420.8 171.9,419.2 172.2,420.0 172.6,420.4 172.9,420.1 173.3,420.7 173.7,420.9 174.0,420.8 174.2,420.7 174.3,420.7 174.7,419.9 175.1,419.9 175.4,420.9 175.8,419.5 176.1,418.8 176.4,418.4 176.8,418.4 177.2,418.0 177.5,419.2 177.8,418.5 177.8,418.9 178.2,418.3 178.6,418.9 178.9,417.8 179.2,418.2 179.6,418.4 179.9,417.7 180.3,417.1 180.7,417.4 181.0,418.3 181.3,418.4 181.4,417.8 181.7,417.8 182.1,417.8 182.4,417.3 182.8,417.0 183.1,417.2 183.4,416.8 183.8,415.9 184.2,416.2 184.5,416.2 184.8,416.6 185.2,417.5 185.6,418.3 185.6,416.4 185.9,417.0 186.2,416.1 186.6,416.1 186.9,416.3 187.3,417.8 187.7,417.1 188.0,417.3 188.3,417.7 188.7,417.7 189.1,417.4 189.4,417.6 189.8,417.4 190.1,417.4 190.4,417.7 190.8,417.7 191.2,418.0 191.5,417.5 191.8,417.1 192.2,418.3 192.6,418.0 192.9,418.0 193.2,417.3 193.6,417.6 193.7,418.0 193.9,418.0 194.3,416.6 194.7,417.1 195.0,416.4 195.3,416.2 195.7,416.0 196.1,415.2 196.4,415.5 196.8,414.5 197.0,414.2 197.1,414.6 197.4,414.1 197.8,413.6 198.2,413.6 198.5,413.5 198.8,413.7 199.2,413.8 199.6,414.7 199.9,413.5 200.2,413.9 200.6,414.7 200.9,415.4 201.3,414.7 201.7,414.4 202.0,414.5 202.3,415.0 202.7,415.4 203.1,416.1 203.4,416.4 203.8,417.1 204.1,416.9 204.2,417.1 204.4,416.8 204.8,417.6 205.2,416.5 205.5,416.2 205.8,416.1 206.2,416.1 206.6,416.1 206.9,415.9 207.2,416.9 207.6,415.5 207.9,415.7 208.3,415.9 208.7,416.0 209.0,416.0 209.3,416.0 209.7,414.3 209.9,415.0 210.1,414.3 210.4,415.0 210.8,415.8 211.1,416.0 211.4,415.3 211.8,415.7 212.2,415.5 212.5,416.2 212.8,415.5 213.2,415.9 213.6,415.5 213.9,415.4 214.2,415.1 214.6,415.8 214.7,415.8 214.9,416.0 215.3,416.3 215.7,416.0 216.0,415.8 216.3,416.0 216.7,415.7 217.1,415.0 217.4,414.6 217.8,414.5 218.1,414.9 218.4,414.4 218.8,414.6 219.2,414.7 219.5,415.1 219.6,414.3 219.8,414.0 220.2,413.1 220.6,413.8 220.9,413.2 221.2,413.3 221.6,412.7 221.9,412.9 222.3,411.6 222.7,412.4 223.0,412.3 223.3,411.5 223.7,413.1 224.1,412.4 224.4,413.6 224.5,411.4 224.8,412.4 225.1,410.9 225.4,411.4 225.8,411.8 226.2,411.4 226.5,411.6 226.8,412.0 227.2,410.9 227.6,411.6 227.9,410.9 228.2,410.5 228.6,411.5 228.9,411.9 229.3,411.4 229.6,411.2 229.7,410.6 230.0,409.7 230.3,410.1 230.7,410.5 231.1,409.2 231.4,409.4 231.8,408.5 232.1,408.6 232.4,408.6 232.8,408.8 233.2,408.0 233.5,407.7 233.8,407.3 234.2,407.2 234.6,406.5 234.8,406.6 234.9,406.5 235.2,406.5 235.6,406.9 235.9,406.8 236.3,404.8 236.7,405.7 237.0,405.7 237.3,406.4 237.7,406.0 238.1,404.2 238.4,404.6 238.7,404.6 238.8,404.1 239.1,404.9 239.4,404.1 239.8,403.8 240.2,403.8 240.5,403.7 240.8,403.5 241.2,402.8 241.6,403.1 241.9,404.0 242.2,403.1 242.6,403.1 242.9,404.0 243.3,404.7 243.7,405.1 244.0,406.0 244.3,407.6 244.6,407.5 244.7,407.3 245.1,408.9 245.4,409.6 245.8,411.4 246.1,413.4 246.4,413.9 246.8,415.3 247.2,417.2 247.5,417.9 247.8,418.8 248.0,419.3 248.2,421.0 248.6,422.9 248.9,423.7 249.2,426.4 249.5,428.1 249.6,427.7 249.9,429.3 250.3,428.9 250.7,429.4 251.0,430.1 251.3,428.8 251.7,427.9 252.1,427.3 252.4,426.2 252.5,426.2 252.8,425.1 253.1,424.8 253.4,423.9 253.8,422.5 254.2,420.7 254.4,420.3 254.5,419.8 254.8,420.2 255.2,420.5 255.6,418.5 255.9,418.4 256.2,417.3 256.6,416.5 256.9,415.8 257.3,416.3 257.4,416.4 257.6,417.1 258.0,416.4 258.4,415.4 258.7,414.9 259.1,415.0 259.4,414.7 259.8,414.0 260.1,413.7 260.4,413.8 260.8,414.3 261.1,413.4 261.3,413.4 261.5,413.8 261.9,412.6 262.2,412.8 262.6,412.0 262.9,412.9 263.2,411.2 263.6,410.5 263.9,411.4 264.2,410.5 264.3,410.5 264.6,410.2 265.0,408.9 265.4,408.6 265.7,407.7 266.0,407.6 266.1,406.9 266.4,406.8 266.8,408.7 267.1,408.1 267.4,407.6 267.8,407.8 268.1,406.8 268.5,407.4 268.9,406.7 269.2,406.6 269.6,407.2 269.9,406.6 270.2,406.0 270.6,405.9 270.9,406.0 271.2,406.2 271.3,406.3 271.6,405.4 272.0,404.8 272.4,404.6 272.7,405.4 273.1,404.5 273.4,404.4 273.8,403.6 274.1,403.5 274.4,404.1 274.8,403.6 275.1,401.7 275.5,402.6 275.9,401.4 276.2,401.2 276.6,402.2 276.9,400.8 277.0,400.3 277.2,401.6 277.6,401.1 277.9,399.9 278.3,399.7 278.6,400.1 279.0,399.3 279.4,398.3 279.7,398.5 280.1,398.2 280.4,398.0 280.8,399.0 281.1,398.7 281.4,397.9 281.8,397.2 282.1,397.2 282.5,397.4 282.9,397.4 283.0,397.4 283.2,397.6 283.6,397.9 283.9,398.3 284.2,398.3 284.6,399.3 284.9,399.1 285.3,399.5 285.6,399.6 286.0,400.1 286.4,400.7 286.7,400.6 287.1,402.2 287.4,401.8 287.8,401.7 288.1,400.7 288.4,401.6 288.8,401.3 289.1,400.4 289.5,399.2 289.9,399.1 290.2,399.1 290.6,398.5 290.9,397.4 291.2,397.2 291.6,396.9 291.8,397.4 291.9,397.0 292.3,397.9 292.6,398.1 293.0,400.4 293.4,400.4 293.7,399.2 294.1,400.5 294.4,400.3 294.7,401.0 294.8,400.3 295.1,400.4 295.4,398.5 295.8,397.7 296.1,397.2 296.5,395.8 296.9,395.8 297.2,394.9 297.6,392.7 297.6,393.0 297.9,392.3 298.2,392.4 298.6,392.6 298.9,392.4 299.3,392.4 299.6,391.4 300.0,390.4 300.4,391.1 300.7,391.2 301.1,391.2 301.4,390.2 301.8,389.5 302.0,390.0 302.1,389.4 302.4,389.1 302.8,389.4 303.1,389.8 303.5,388.8 303.9,388.0 304.2,386.7 304.6,387.6 304.9,388.9 305.2,388.3 305.6,386.8 305.9,387.1 306.3,387.8 306.6,388.3 307.0,388.9 307.4,387.6 307.7,387.6 308.0,387.0 308.1,386.6 308.4,386.6 308.8,386.0 309.1,385.4 309.4,386.0 309.8,385.6 310.1,385.0 310.5,385.5 310.9,385.7 311.2,385.2 311.6,384.6 311.9,383.7 312.2,383.6 312.4,384.1 312.6,384.8 312.9,383.1 313.3,383.9 313.6,382.6 314.0,381.7 314.4,381.6 314.7,380.2 315.1,381.9 315.3,380.4 315.4,380.1 315.8,381.6 316.1,380.9 316.4,381.8 316.8,381.7 317.1,382.0 317.5,383.3 317.9,384.9 318.2,384.3 318.6,384.2 318.9,385.4 319.2,384.5 319.6,385.7 319.7,385.6 319.9,385.2 320.3,385.8 320.6,385.2 321.0,386.0 321.4,385.4 321.7,384.6 322.1,385.1 322.4,384.1 322.8,384.5 323.1,385.2 323.4,384.4 323.8,383.5 324.1,383.9 324.5,383.5 324.9,382.4 325.0,383.4 325.2,382.7 325.6,383.5 325.9,382.1 326.2,382.1 326.6,381.6 326.9,380.5 327.3,380.2 327.6,380.6 328.0,380.1 328.2,379.9 328.4,380.1 328.7,378.1 329.1,380.3 329.4,379.7 329.8,381.2 330.1,381.2 330.4,379.3 330.8,379.4 331.1,379.6 331.5,380.4 331.9,379.1 332.2,379.3 332.6,379.7 332.9,379.9 333.2,380.5 333.6,380.0 333.9,379.3 334.3,380.0 334.6,379.8 334.7,379.9 335.0,378.3 335.4,379.4 335.7,378.9 336.1,379.1 336.4,378.3 336.8,378.9 337.1,377.5 337.4,378.4 337.8,376.8 338.1,377.7 338.5,377.9 338.9,376.0 339.2,376.2 339.6,376.2 339.6,376.6 339.9,376.0 340.2,375.7 340.6,376.7 340.9,376.9 341.3,374.9 341.6,375.6 342.0,377.0 342.4,376.7 342.7,377.3 343.1,376.4 343.4,378.0 343.8,377.7 344.1,376.7 344.4,376.9 344.8,377.8 345.1,376.7 345.5,376.2 345.9,377.2 346.2,376.9 346.6,375.2 346.9,375.5 347.2,376.3 347.6,376.8 347.8,376.6 347.9,376.6 348.3,376.8 348.6,376.8 349.0,376.8 349.4,375.6 349.7,376.0 350.1,376.4 350.4,376.3 350.8,376.1 351.1,377.1 351.4,375.7 351.8,376.5 352.1,375.3 352.5,374.7 352.9,374.6 353.2,375.9 353.6,375.9 353.9,375.0 354.2,373.0 354.6,373.6 354.9,374.2 355.3,374.4 355.6,375.6 355.9,374.2 356.0,375.3 356.4,374.8 356.7,373.6 357.1,373.5 357.4,374.4 357.8,374.6 358.1,376.3 358.4,375.1 358.8,374.7 359.1,375.4 359.5,375.9 359.9,374.9 360.2,376.6 360.6,375.0 360.8,375.8 360.9,374.7 361.2,376.0 361.6,375.1 361.9,374.3 362.3,375.2 362.6,375.6 363.0,374.1 363.4,372.3 363.7,372.0 364.1,373.0 364.4,373.9 364.8,374.0 365.1,374.2 365.4,374.4 365.8,373.2 366.1,373.2 366.5,371.1 366.9,371.2 367.2,371.8 367.6,370.7 367.9,371.3 368.2,369.5 368.6,369.6 368.9,370.3 369.0,370.1 369.3,370.5 369.6,371.2 370.0,371.0 370.4,371.6 370.7,370.9 371.1,372.5 371.4,372.2 371.8,372.5 372.1,373.1 372.4,372.9 372.8,373.2 373.1,374.7 373.5,376.0 373.9,375.4 373.9,375.0 374.2,375.0 374.6,375.5 374.9,373.9 375.2,373.2 375.6,373.8 375.9,372.9 376.3,373.9 376.6,373.2 377.0,373.3 377.4,371.3 377.7,371.9 378.1,372.5 378.4,371.0 378.8,371.2 379.1,371.2 379.4,371.1 379.6,370.9 379.8,370.1 380.1,370.6 380.5,371.3 380.9,373.4 381.2,372.9 381.6,373.2 381.9,372.8 382.2,372.4 382.6,373.3 382.9,373.2 383.3,374.5 383.6,374.8 384.0,375.4 384.4,374.5 384.7,376.0 385.1,375.9 385.3,375.8 385.4,376.8 385.8,376.4 386.1,375.7 386.4,378.3 386.8,377.8 387.1,378.2 387.5,378.0 387.9,378.9 388.2,379.2 388.6,379.7 388.9,380.8 389.2,380.5 389.6,380.0 389.9,381.7 390.3,382.5 390.6,383.1 391.0,382.6 391.4,384.4 391.7,383.9 391.8,384.0 392.1,384.1 392.4,383.8 392.8,382.8 393.1,382.9 393.4,382.4 393.8,381.3 394.1,380.2 394.5,379.9 394.9,380.6 395.1,379.9 395.2,378.3 395.6,378.9 395.9,379.7 396.2,378.6 396.6,378.6 396.9,377.5 397.3,378.9 397.6,379.0 397.7,377.7 398.0,377.8 398.4,378.4 398.7,378.4 399.1,379.0 399.4,379.0 399.8,380.5 400.1,381.2 400.4,380.9 400.8,382.2 401.1,381.3 401.5,381.1 401.9,383.2 402.2,383.0 402.6,384.1 402.9,385.1 403.2,385.4 403.6,385.2 403.9,385.1 404.3,386.9 404.6,387.6 405.0,388.3 405.4,389.2 405.7,389.2 406.1,389.3 406.4,388.8 406.7,390.3 406.8,390.8 407.1,391.0 407.4,389.9 407.8,389.3 408.1,389.9 408.5,388.6 408.9,387.9 409.2,387.7 409.6,387.4 409.9,389.5 410.2,387.6 410.3,387.6 410.6,388.6 410.9,390.1 411.3,391.1 411.6,391.2 412.0,392.4 412.4,390.6 412.7,392.0 413.1,392.3 413.4,393.1 413.8,395.6 414.1,393.9 414.4,395.3 414.8,395.7 415.1,396.2 415.5,396.1 415.9,395.1 416.2,396.1 416.6,395.6 416.9,395.1 417.2,394.8 417.6,394.4 417.9,394.5 418.3,394.1 418.6,394.8 419.0,394.2 419.3,393.9 419.4,395.0 419.7,393.2 420.1,392.8 420.4,392.5 420.8,391.4 421.1,390.2 421.4,390.3 421.8,390.4 422.1,389.9 422.5,389.9 422.9,389.5 423.2,389.6 423.6,388.9 423.9,388.3 424.2,387.2 424.6,386.5 424.7,386.7 424.9,386.8 425.3,386.8 425.6,386.8 426.0,387.6 426.4,388.7 426.7,388.7 427.1,388.6 427.4,390.4 427.8,390.7 428.1,390.7 428.4,390.7 428.8,391.6 429.1,391.3 429.5,391.2 429.9,392.8 430.0,393.0 430.2,392.1 430.6,391.9 430.9,394.3 431.2,395.5 431.6,394.6 431.9,395.6 432.3,397.3 432.6,396.9 433.0,397.2 433.4,398.1 433.7,399.3 434.1,399.3 434.4,401.1 434.5,401.0 434.8,400.8 435.1,400.6 435.4,400.3 435.8,399.1 436.1,399.3 436.5,398.6 436.9,399.5 437.2,398.5 437.6,398.3 437.9,398.5 438.1,398.4 438.2,398.3 438.6,398.1 438.9,397.4 439.3,397.1 439.6,397.8 440.0,397.2 440.4,395.7 440.7,395.8 441.1,395.1 441.4,395.6 441.8,395.0 442.1,394.6 442.4,395.0 442.8,393.4 443.1,392.7 443.5,393.0 443.9,391.9 444.2,392.8 444.6,393.2 444.9,393.9 445.2,392.1 445.6,392.2 445.9,393.5 446.3,393.4 446.6,393.6 447.0,393.6 447.4,393.4 447.7,393.0 448.1,393.4 448.4,393.6 448.8,393.1 448.9,393.0 449.1,393.4 449.4,393.8 449.8,393.2 450.1,393.4 450.5,393.7 450.9,394.2 451.2,394.2 451.6,395.5 451.9,394.9 452.2,394.6 452.5,394.8 452.6,395.0 452.9,395.7 453.3,393.5 453.6,392.7 454.0,392.2 454.4,391.9 454.7,392.4 455.1,391.7 455.4,390.6 455.8,390.1 456.1,389.7 456.4,388.5 456.8,388.4 457.1,389.1 457.5,386.5 457.9,386.4 457.9,386.7 458.2,387.8 458.6,387.6 458.9,388.4 459.2,388.2 459.6,388.1 459.9,387.6 460.3,387.1 460.6,388.3 461.0,387.5 461.4,388.4 461.7,388.4 462.1,387.9 462.4,387.5 462.8,388.8 463.1,389.0 463.3,389.4 463.4,389.3 463.8,389.6 464.1,389.4 464.5,388.3 464.9,389.2 465.2,389.6 465.6,388.6 465.9,388.2 466.2,388.2 466.6,389.0 466.9,389.2 467.3,388.1 467.6,388.8 468.0,389.0 468.4,389.5 468.7,388.5 469.1,388.3 469.4,390.1 469.8,391.1 470.1,391.1 470.4,389.2 470.5,389.8 470.8,390.5 471.1,389.4 471.5,388.7 471.9,388.6 472.2,388.1 472.6,387.9 472.9,388.8 473.0,387.9 473.2,388.8 473.6,388.6 473.9,388.3 474.3,387.8 474.6,387.8 475.0,389.1 475.4,389.1 475.7,389.8 476.1,389.4 476.4,389.4 476.8,387.8 477.0,388.9 477.1,389.2 477.4,387.8 477.8,389.9 478.1,389.2 478.5,389.2 478.9,388.6 479.2,388.7 479.6,388.7 479.9,390.3 480.2,390.1 480.6,389.7 480.9,388.2 481.0,389.8 481.3,388.8 481.6,388.5 482.0,387.6 482.4,387.8 482.7,387.1 483.1,386.8 483.4,386.3 483.8,385.3 484.1,384.6 484.4,383.7 484.8,383.5 485.0,383.9 485.1,383.9 485.5,382.9 485.9,384.0 486.2,384.2 486.6,384.5 486.9,384.9 487.2,384.8 487.6,384.8 487.9,383.8 488.3,384.1 488.6,383.2 489.0,384.9 489.4,384.5 489.7,384.5 490.1,384.9 490.4,383.7 490.8,382.0 491.1,383.1 491.4,382.1 491.8,383.0 492.1,383.1 492.5,382.9 492.9,380.7 493.0,380.9 493.2,380.9 493.6,381.3 493.9,380.7 494.2,382.1 494.6,382.6 494.9,382.7 495.3,382.3 495.6,383.1 496.0,382.9 496.4,383.6 496.7,384.4 497.1,385.3 497.4,385.5 497.8,385.4 498.1,385.2 498.4,385.7 498.8,387.0 498.9,385.9 499.1,386.9 499.5,385.2 499.9,386.0 500.2,385.6 500.6,385.2 500.9,385.6 501.2,385.1 501.6,385.0 501.9,383.7 502.3,383.8 502.6,384.6 502.9,383.9 503.0,383.9 503.4,383.5 503.7,385.7 504.1,385.8 504.4,386.6 504.8,387.6 505.1,387.6 505.4,387.6 505.8,388.7 505.9,388.9 506.1,388.8 506.5,389.0 506.9,390.5 507.2,389.3 507.6,388.5 507.9,387.6 508.2,388.1 508.6,388.8 508.9,387.8 509.3,388.1 509.6,386.3 509.9,387.9 510.0,387.5 510.4,388.5 510.7,389.3 511.1,390.3 511.4,390.4 511.8,391.1 512.1,391.6 512.4,391.8 512.5,391.3 512.8,390.9 513.1,389.6 513.5,390.2 513.9,389.6 514.2,388.0 514.5,387.5 514.9,386.6 515.2,385.1 515.6,385.6 515.9,384.9 516.0,384.2 516.3,385.2 516.6,384.6 517.0,385.0 517.4,383.8 517.7,384.0 518.0,383.8 518.4,382.7 518.8,382.1 519.1,382.3 519.5,381.2 519.8,381.6 519.9,380.9 520.1,381.6 520.5,379.9 520.9,379.3 521.2,378.4 521.5,377.5 521.9,377.3 522.2,376.8 522.6,375.6 522.8,375.9 523.0,375.4 523.3,375.6 523.6,376.0 524.0,376.2 524.4,375.4 524.7,377.1 525.0,376.5 525.4,376.1 525.8,376.0 526.1,376.8 526.5,377.2 526.8,376.7 527.1,376.7 527.5,375.6 527.8,376.9 527.9,376.8 528.2,376.5 528.5,375.5 528.9,376.2 529.2,376.7 529.6,376.3 530.0,374.1 530.3,374.9 530.6,373.7 531.0,373.3 531.4,372.7 531.7,373.4 531.8,372.9 532.0,372.9 532.4,373.6 532.8,372.7 533.1,372.8 533.5,372.3 533.8,373.3 534.1,372.4 534.5,372.5 534.9,372.3 535.0,372.3 535.2,371.8 535.5,371.7 535.9,370.9 536.2,371.2 536.6,371.1 537.0,371.0 537.3,371.2 537.6,369.9 538.0,370.7 538.4,369.6 538.7,368.8 539.0,368.9 539.0,368.5 539.4,369.0 539.8,369.0 540.1,368.7 540.5,369.4 540.8,368.1 541.1,367.3 541.5,367.0 541.9,367.5 542.2,367.5 542.5,366.4 542.9,366.5 543.0,367.4 543.2,367.0 543.6,369.3 544.0,368.1 544.3,367.7 544.6,369.5 545.0,370.6 545.4,370.5 545.7,371.2 546.0,371.7 546.4,372.8 546.8,374.2 547.0,373.8 547.1,373.9 547.5,372.8 547.8,374.0 548.1,373.5 548.5,373.4 548.9,371.8 549.2,373.0 549.5,372.9 549.9,372.7 550.0,371.8 550.2,371.8 550.6,371.0 551.0,369.7 551.3,369.9 551.6,369.5 552.0,368.8 552.4,367.2 552.7,364.9 553.0,365.9 553.0,365.4 553.4,366.1 553.8,365.6 554.1,367.0 554.5,367.5 554.8,367.6 555.1,368.2 555.5,368.5 555.9,367.5 556.0,367.9 556.2,367.1 556.5,366.2 556.9,366.8 557.2,366.1 557.6,365.8 558.0,365.1 558.3,363.4 558.6,363.1 558.9,362.9 559.0,363.5 559.4,363.6 559.7,363.9 560.0,361.7 560.4,361.3 560.8,362.5 561.1,363.6 561.5,364.2 561.8,362.9 561.9,362.9 562.1,362.3 562.5,361.0 562.9,360.5 563.2,360.9 563.5,359.7 563.9,360.6 564.2,360.6 564.4,358.9 564.6,359.2 565.0,359.8 565.3,360.6 565.6,361.7 566.0,362.7 566.4,362.8 566.7,363.6 566.9,363.9 567.0,364.2 567.4,364.9 567.8,365.7 568.1,366.4 568.5,366.9 568.8,367.1 568.9,367.9 569.1,367.7 569.5,365.9 569.9,364.5 570.2,363.9 570.5,361.3 570.9,360.5 571.2,358.7 571.4,358.9 571.6,358.7 572.0,358.0 572.3,358.8 572.6,359.8 573.0,360.1 573.4,359.4 573.7,361.3 574.0,360.2 574.4,361.4 574.8,360.9 574.9,360.9 575.1,359.4 575.5,360.6 575.8,359.9 576.1,359.7 576.5,358.9 576.9,357.5 577.2,356.3 577.5,356.3 577.9,355.9 578.2,356.2 578.6,355.1 579.0,355.5 579.3,356.4 579.6,355.8 580.0,355.6 580.4,355.1 580.7,355.8 581.0,356.0 581.4,355.3 581.8,355.8 581.9,355.4 582.1,356.6 582.5,356.5 582.8,356.7 583.1,356.7 583.5,356.2 583.9,357.0 584.2,359.0 584.5,358.2 584.9,358.4 585.2,358.0 585.6,359.2 585.8,358.9 586.0,359.3 586.3,358.2 586.6,357.8 587.0,357.0 587.4,357.5 587.7,356.7 588.0,356.0 588.4,357.0 588.8,357.3 588.8,355.9 589.1,355.1 589.5,354.3 589.8,355.0 590.1,354.7 590.5,353.5 590.9,354.6 591.2,353.1 591.5,353.6 591.9,353.4 592.2,353.3 592.3,352.9 592.6,352.3 593.0,353.2 593.3,353.9 593.6,353.6 594.0,354.4 594.4,355.6 594.7,356.7 595.0,357.1 595.4,357.0 595.8,356.7 595.8,357.9 596.1,357.7 596.5,360.5 596.8,357.5 597.1,358.6 597.5,359.3 597.9,358.9 598.2,358.7 598.5,358.4 598.9,359.1 599.2,359.1 599.6,359.1 599.8,358.9 600.0,358.7 600.3,358.3 600.6,356.7 601.0,355.7 601.4,355.0 601.7,355.5 602.0,354.1 602.3,353.5 602.4,352.5 602.8,352.6 603.1,353.8 603.5,353.0 603.8,352.1 604.1,353.1 604.5,352.5 604.9,351.8 605.2,351.5 605.5,351.4 605.9,351.7 606.2,352.1 606.6,351.9 606.9,351.8 607.0,352.2 607.3,352.8 607.6,353.1 608.0,354.2 608.4,354.5 608.7,355.0 609.0,355.0 609.4,356.1 609.8,356.3 610.1,356.6 610.5,358.2 610.8,358.9 611.1,358.7 611.4,359.2 611.5,359.8 611.9,359.3 612.2,358.6 612.5,358.9 612.9,358.4 613.2,357.6 613.6,357.5 614.0,354.6 614.3,356.3 614.6,357.2 615.0,359.4 615.4,357.8 615.7,359.2 616.0,359.2 616.0,359.6 616.4,362.5 616.8,366.7 617.1,370.2 617.2,370.6 617.5,369.8 617.8,368.4 618.1,367.8 618.5,368.7 618.9,367.9 619.2,364.9 619.5,364.9 619.5,363.3 619.9,364.2 620.2,362.3 620.6,361.4 621.0,360.7 621.2,360.3 621.3,360.6 621.6,359.3 622.0,358.3 622.4,357.2 622.7,357.4 623.0,355.9 623.4,355.8 623.8,355.4 624.1,353.8 624.5,352.9 624.6,352.3 624.8,352.3 625.1,351.4 625.5,352.1 625.9,352.3 626.2,351.5 626.5,350.5 626.9,352.4 627.2,352.8 627.6,351.2 628.0,352.6 628.0,352.3 628.3,351.5 628.6,351.7 629.0,351.2 629.4,350.3 629.7,349.8 630.0,349.9 630.4,349.2 630.8,348.5 630.9,348.9 631.1,348.6 631.5,347.7 631.8,348.3 632.1,347.2 632.5,345.8 632.9,345.5 633.2,346.6 633.5,346.1 633.9,347.2 634.2,346.9 634.6,346.5 635.0,346.6 635.3,346.4 635.6,345.3 636.0,344.2 636.4,344.1 636.6,344.9 636.7,344.0 637.0,343.8 637.4,343.6 637.8,344.8 638.1,344.7 638.5,343.3 638.8,344.6 639.1,345.3 639.5,344.4 639.9,342.9 640.2,343.9 640.5,340.9 640.6,343.2 640.9,342.0 641.2,342.8 641.6,344.5 642.0,341.8 642.3,342.8 642.6,343.7 643.0,343.8 643.4,339.7 643.7,341.7 644.0,340.9 644.0,341.0 644.4,341.4 644.8,340.3 645.1,340.3 645.5,340.2 645.8,341.5 646.1,341.2 646.5,340.1 646.9,339.9 647.2,340.5 647.5,339.7 647.5,340.5 647.9,339.3 648.2,338.3 648.6,337.6 649.0,337.0 649.3,336.2 649.6,334.6 650.0,334.7 650.3,335.2 650.4,335.4 650.7,334.3 651.0,333.9 651.4,334.9 651.8,336.2 652.1,335.9 652.5,334.9 652.8,334.5 653.1,333.9 653.5,333.8 653.8,334.6 653.9,333.6 654.2,333.7 654.5,332.4 654.9,332.4 655.2,332.3 655.6,331.1 656.0,331.0 656.3,330.4 656.6,329.1 657.0,329.3 657.2,330.0 657.4,330.0 657.7,330.8 658.0,327.9 658.4,331.1 658.8,330.7 659.1,330.4 659.5,331.9 659.8,329.4 660.1,332.3 660.1,330.3 660.5,332.9 660.9,335.8 661.2,337.5 661.5,335.6 661.9,336.3 662.2,337.8 662.4,337.5 662.6,335.9 663.0,336.6 663.3,334.7 663.6,334.0 664.0,331.5 664.4,331.1 664.6,331.2 664.7,331.5 665.0,331.9 665.4,331.4 665.8,332.3 666.1,333.7 666.5,331.9 666.8,332.1 667.1,334.2 667.5,333.5 667.9,333.1 668.2,333.3 668.5,332.9 668.9,332.6 669.2,330.8 669.6,330.2 670.0,330.4 670.3,330.6 670.6,330.1 670.9,328.9 671.0,328.9 671.4,326.9 671.7,327.9 672.0,328.6 672.4,327.6 672.8,328.9 673.1,329.7 673.5,329.4 673.8,329.0 674.1,330.6 674.4,328.9 674.5,327.3 674.9,327.9 675.2,326.9 675.5,324.5 675.9,325.8 676.1,324.9"/>
<polyline stroke="#0ab0f0" stroke-width="3.7" points="89.3,421.5 89.7,421.4 90.0,421.2 90.3,419.9 90.7,420.7 91.0,419.4 91.4,420.1 91.8,419.4 92.1,420.2 92.5,423.2 92.8,421.0 93.0,420.0 93.2,421.7 93.5,420.7 93.8,422.0 94.2,423.6 94.5,423.4 94.9,425.7 95.2,426.4 95.6,426.5 96.0,427.3 96.0,428.0 96.3,426.1 96.7,427.5 97.0,425.8 97.3,425.9 97.7,424.7 98.0,424.9 98.4,422.7 98.8,423.3 99.0,422.0 99.1,422.3 99.5,422.7 99.8,423.5 100.2,422.6 100.5,422.1 100.8,422.2 101.2,422.1 101.5,423.2 101.9,422.1 102.2,422.7 102.5,422.0 102.6,422.8 103.0,422.8 103.3,422.9 103.7,423.5 104.0,424.2 104.3,423.3 104.7,424.5 105.0,425.9 105.4,426.4 105.8,427.5 106.1,428.5 106.5,427.3 106.8,428.4 107.2,428.6 107.5,429.0 107.7,429.0 107.8,430.5 108.2,428.5 108.5,426.8 108.9,429.1 109.2,427.8 109.6,427.8 110.0,427.6 110.3,425.2 110.7,426.8 111.0,424.7 111.3,424.7 111.7,425.6 112.0,424.5 112.4,423.7 112.8,423.5 113.1,424.0 113.5,424.8 113.8,425.5 114.2,423.4 114.5,424.4 114.8,423.8 115.2,425.0 115.4,423.8 115.5,425.1 115.9,423.3 116.2,421.8 116.6,423.5 117.0,424.1 117.3,424.6 117.7,426.6 118.0,425.2 118.3,425.3 118.7,426.0 119.0,425.9 119.4,424.8 119.8,426.4 120.1,428.1 120.5,427.9 120.5,426.4 120.8,425.5 121.2,426.8 121.5,427.2 121.8,428.9 122.2,427.2 122.5,427.3 122.9,428.9 123.2,427.0 123.6,428.9 124.0,428.1 124.3,426.9 124.7,429.0 124.8,428.0 125.0,429.2 125.3,428.3 125.7,427.9 126.0,426.1 126.4,425.9 126.8,426.2 127.1,425.3 127.5,425.9 127.8,425.9 128.2,425.8 128.5,424.8 128.8,425.0 129.2,425.1 129.6,424.3 129.9,424.0 130.0,423.8 130.2,423.8 130.6,423.9 130.9,423.2 131.3,426.1 131.7,425.7 132.0,425.9 132.3,424.5 132.7,424.2 133.1,425.9 133.4,426.6 133.8,428.2 134.0,426.4 134.1,427.2 134.4,425.9 134.8,424.3 135.2,426.7 135.5,426.1 135.8,424.8 136.2,425.7 136.6,424.3 136.9,427.9 137.2,427.0 137.6,426.9 137.9,425.3 138.3,423.2 138.7,424.1 139.0,424.7 139.3,424.7 139.7,423.5 140.1,423.3 140.4,425.3 140.8,426.7 141.1,422.9 141.4,422.7 141.8,424.8 142.2,425.2 142.5,423.9 142.8,423.4 143.2,423.8 143.5,424.2 143.6,423.3 143.9,423.8 144.2,427.2 144.6,426.9 144.9,428.1 145.3,427.6 145.5,427.5 145.7,427.4 146.0,426.7 146.3,425.9 146.7,426.1 147.1,426.1 147.4,426.8 147.8,428.2 148.1,428.5 148.4,428.7 148.8,428.3 149.2,425.9 149.3,427.0 149.5,427.1 149.8,427.3 150.2,427.6 150.6,427.7 150.9,426.5 151.2,429.6 151.6,429.4 151.9,430.5 152.3,431.3 152.7,431.9 153.0,433.0 153.3,433.3 153.5,432.6 153.7,432.6 154.1,431.9 154.4,433.4 154.8,433.0 155.1,435.2 155.4,434.9 155.8,435.0 156.2,436.4 156.5,433.2 156.8,435.6 157.0,435.2 157.2,434.9 157.6,435.2 157.9,435.9 158.2,436.9 158.6,437.7 158.9,437.4 159.3,436.1 159.7,437.5 160.0,436.1 160.3,437.6 160.4,438.6 160.7,437.8 161.1,437.6 161.4,437.3 161.8,437.2 162.1,436.2 162.4,435.0 162.8,433.7 163.2,433.8 163.3,434.0 163.5,435.5 163.8,434.2 164.2,434.1 164.6,433.6 164.9,432.8 165.2,431.8 165.6,432.6 165.9,431.6 166.3,430.4 166.4,431.5 166.7,430.8 167.0,432.2 167.3,432.2 167.7,430.5 168.1,430.9 168.4,431.0 168.8,431.0 169.1,429.4 169.4,429.4 169.8,430.1 170.2,428.8 170.5,428.4 170.6,429.0 170.8,428.7 171.2,427.8 171.6,428.2 171.9,427.1 172.2,427.3 172.6,428.4 172.9,428.2 173.3,428.2 173.7,429.3 174.0,429.2 174.2,428.5 174.3,428.4 174.7,428.3 175.1,427.8 175.4,428.8 175.8,428.1 176.1,427.2 176.4,425.7 176.8,426.2 177.2,424.6 177.5,426.5 177.8,426.4 177.8,425.9 178.2,426.5 178.6,426.3 178.9,425.3 179.2,425.6 179.6,425.7 179.9,423.5 180.3,423.1 180.7,423.8 181.0,424.2 181.3,424.8 181.4,423.5 181.7,423.2 182.1,423.8 182.4,422.4 182.8,422.4 183.1,422.8 183.4,421.5 183.8,420.8 184.2,421.7 184.5,421.3 184.8,422.1 184.9,422.1 185.2,423.9 185.6,424.3 185.9,421.5 186.2,419.4 186.6,420.1 186.9,420.4 187.3,421.6 187.7,420.8 188.0,419.5 188.3,419.9 188.5,419.9 188.7,420.3 189.1,417.9 189.4,418.6 189.8,417.4 190.1,418.7 190.4,418.2 190.8,417.0 191.2,418.3 191.5,417.0 191.8,415.4 192.0,417.2 192.2,417.3 192.6,416.6 192.9,415.4 193.2,413.6 193.6,413.4 193.9,413.5 194.3,411.2 194.6,411.2 194.7,412.4 195.0,410.7 195.3,410.4 195.7,408.3 196.1,409.3 196.4,409.8 196.8,407.4 197.0,407.1 197.1,408.2 197.4,407.7 197.8,405.2 198.2,407.5 198.5,407.3 198.8,405.7 199.2,407.7 199.6,408.8 199.9,405.4 200.2,406.9 200.3,406.5 200.6,408.6 200.9,407.6 201.3,406.8 201.7,406.4 202.0,406.7 202.3,405.6 202.7,406.1 203.1,406.0 203.4,406.4 203.8,408.3 204.1,407.1 204.4,405.3 204.8,407.1 204.9,407.0 205.2,407.6 205.5,406.9 205.8,406.9 206.2,405.2 206.6,406.2 206.9,406.5 207.2,409.3 207.6,406.9 207.9,406.5 208.3,407.8 208.7,406.5 209.0,408.0 209.3,407.7 209.7,404.8 209.8,406.5 210.1,405.9 210.4,406.9 210.8,405.7 211.1,406.7 211.4,406.6 211.8,405.6 212.2,405.1 212.5,404.4 212.8,406.2 213.2,405.9 213.6,403.9 213.7,404.5 213.9,403.3 214.2,405.0 214.6,406.6 214.9,408.0 215.3,407.7 215.7,407.1 216.0,408.0 216.3,406.4 216.7,407.8 217.1,407.1 217.4,408.1 217.6,408.4 217.8,407.3 218.1,408.7 218.4,408.2 218.8,408.3 219.2,408.8 219.5,409.5 219.8,407.7 220.2,407.7 220.6,408.6 220.9,406.9 221.2,407.9 221.6,408.0 221.9,407.7 222.3,406.2 222.7,407.9 223.0,407.3 223.3,406.8 223.7,408.9 224.1,407.8 224.4,410.8 224.8,409.1 225.1,407.4 225.4,407.0 225.8,408.6 226.2,406.7 226.5,406.3 226.8,407.3 227.2,405.5 227.5,406.5 227.6,406.8 227.9,405.3 228.2,403.5 228.6,405.7 228.9,407.2 229.3,405.6 229.7,403.9 230.0,402.8 230.3,405.0 230.7,404.8 230.9,404.6 231.1,403.0 231.4,404.2 231.8,402.4 232.1,402.6 232.4,402.9 232.8,403.4 233.2,402.6 233.5,402.1 233.8,399.4 234.2,399.8 234.6,399.8 234.8,399.7 234.9,399.0 235.2,399.9 235.6,399.8 235.9,400.7 236.3,396.3 236.7,399.0 237.0,397.9 237.3,399.0 237.7,398.3 238.1,396.8 238.4,396.0 238.7,395.8 238.8,395.8 239.1,396.9 239.4,394.7 239.8,394.4 240.2,395.1 240.5,395.1 240.8,394.9 241.2,394.7 241.6,394.7 241.9,394.9 242.2,394.4 242.6,392.8 242.9,393.1 243.3,393.2 243.6,392.4 243.7,392.3 244.0,393.2 244.3,394.0 244.7,392.7 245.1,393.4 245.4,391.8 245.6,394.8 245.8,394.0 246.1,394.7 246.4,396.8 246.8,399.1 247.2,402.8 247.5,402.6 247.8,404.6 248.2,408.5 248.6,408.6 248.9,410.5 249.2,413.1 249.5,414.4 249.6,415.1 249.9,419.4 250.3,421.5 250.5,424.2 250.7,422.3 251.0,421.5 251.3,421.4 251.7,418.4 252.1,418.6 252.4,417.6 252.5,417.4 252.8,414.9 253.1,414.4 253.4,413.6 253.8,411.7 254.2,408.8 254.4,409.0 254.5,407.8 254.8,408.3 255.2,410.0 255.6,407.6 255.9,406.7 256.2,405.7 256.6,403.5 256.9,403.3 257.3,403.1 257.4,404.0 257.6,404.2 258.0,403.5 258.4,402.5 258.7,401.1 259.1,400.8 259.4,401.5 259.8,399.3 260.1,399.3 260.4,399.6 260.8,400.3 261.1,400.0 261.3,399.0 261.5,398.7 261.9,398.5 262.2,398.2 262.6,397.3 262.9,398.4 263.2,395.8 263.5,396.0 263.6,393.9 263.9,395.7 264.3,394.8 264.6,394.6 265.0,394.0 265.3,393.0 265.4,393.3 265.7,391.8 266.1,391.1 266.4,391.0 266.8,394.2 267.1,393.5 267.4,392.8 267.8,392.4 268.1,392.4 268.5,392.6 268.9,391.7 269.2,391.0 269.6,391.3 269.9,389.8 270.2,389.0 270.6,389.3 270.9,388.8 271.2,390.0 271.3,390.1 271.6,388.1 272.0,387.1 272.4,387.0 272.7,387.6 273.1,387.5 273.4,385.1 273.8,384.9 274.1,383.8 274.4,384.3 274.8,382.1 275.1,379.4 275.5,381.4 275.9,380.1 276.2,379.8 276.6,380.4 276.9,378.4 277.0,376.8 277.2,379.3 277.6,378.7 277.9,376.1 278.3,376.4 278.6,377.1 279.0,375.3 279.4,374.0 279.7,373.8 280.1,374.9 280.4,375.1 280.8,376.3 281.1,375.0 281.4,374.9 281.8,374.0 282.1,372.8 282.5,373.1 282.9,374.0 283.0,373.8 283.2,374.8 283.6,373.6 283.9,375.9 284.2,375.0 284.6,376.0 284.9,375.8 285.3,376.6 285.6,377.3 286.0,376.6 286.4,378.7 286.7,377.2 287.1,380.9 287.4,379.7 287.8,379.8 288.1,378.9 288.4,379.8 288.8,379.4 289.1,378.9 289.5,376.0 289.9,376.0 290.2,377.6 290.6,376.1 290.9,373.8 291.0,375.3 291.2,375.2 291.6,374.3 291.9,375.8 292.3,374.7 292.6,375.7 293.0,377.8 293.4,380.0 293.7,377.0 294.1,376.1 294.4,375.9 294.7,376.8 294.8,375.6 295.1,377.3 295.4,374.1 295.8,372.9 296.1,371.5 296.5,370.8 296.9,370.6 297.2,368.9 297.6,367.6 297.9,366.7 298.2,367.1 298.6,368.7 298.9,368.4 299.3,368.4 299.6,366.9 300.0,365.1 300.4,366.3 300.6,366.6 300.7,367.7 301.1,367.0 301.4,364.0 301.8,364.1 302.1,362.8 302.4,361.9 302.8,362.8 303.1,362.9 303.5,361.2 303.9,359.4 304.0,360.9 304.2,358.0 304.6,356.4 304.9,357.8 305.2,357.7 305.6,350.3 305.9,350.5 306.3,351.2 306.6,351.7 307.0,350.4 307.4,347.5 307.5,346.0 307.7,347.1 308.1,345.7 308.4,346.9 308.8,345.7 309.1,346.4 309.4,348.4 309.8,347.8 310.1,349.1 310.5,352.3 310.9,351.5 310.9,350.6 311.2,351.1 311.6,349.4 311.9,346.3 312.2,346.6 312.6,346.4 312.9,343.0 313.3,345.3 313.6,343.4 314.0,342.3 314.3,341.4 314.4,341.0 314.7,340.1 315.1,342.3 315.4,340.4 315.8,342.7 316.1,339.4 316.4,340.4 316.8,338.8 317.1,340.0 317.5,340.5 317.8,339.2 317.9,342.6 318.2,339.3 318.6,340.7 318.9,342.6 319.2,340.4 319.6,344.7 319.9,343.5 320.0,343.7 320.3,342.4 320.6,343.7 321.0,343.3 321.4,342.4 321.7,339.5 322.1,339.1 322.4,337.7 322.8,340.0 323.1,339.3 323.4,337.6 323.5,336.9 323.8,335.2 324.1,336.5 324.5,336.4 324.9,335.0 325.2,334.1 325.6,335.8 325.9,335.4 326.2,333.0 326.6,331.8 326.9,332.3 326.9,330.4 327.3,331.0 327.6,330.8 328.0,330.5 328.4,330.9 328.7,327.8 329.1,329.8 329.4,330.7 329.8,330.6 330.1,331.5 330.4,328.6 330.8,327.4 331.1,327.8 331.5,330.6 331.9,326.7 332.2,326.8 332.6,326.0 332.9,329.1 333.2,330.1 333.6,329.5 333.9,328.9 334.3,331.3 334.6,330.3 335.0,329.5 335.4,333.0 335.5,332.6 335.7,330.9 336.1,333.1 336.4,330.3 336.8,333.4 337.1,329.7 337.4,331.3 337.8,329.8 338.1,333.1 338.5,331.1 338.9,330.2 339.2,330.3 339.6,331.0 339.9,330.3 340.2,328.8 340.4,331.0 340.6,330.9 340.9,331.8 341.3,329.4 341.6,331.5 342.0,334.3 342.4,334.6 342.7,337.0 342.9,335.8 343.1,336.5 343.4,337.9 343.8,338.7 344.1,335.1 344.4,336.0 344.8,335.8 345.1,335.0 345.5,331.7 345.9,332.4 346.2,333.9 346.6,330.7 346.9,330.3 347.2,333.5 347.6,331.5 347.8,331.0 347.9,331.3 348.3,331.8 348.6,330.3 349.0,332.5 349.4,327.3 349.7,327.0 350.1,324.8 350.4,328.3 350.8,327.1 351.1,328.6 351.4,326.7 351.8,325.9 352.1,324.6 352.5,321.7 352.7,322.8 352.9,321.4 353.2,324.3 353.6,324.1 353.9,321.3 354.2,317.7 354.6,318.4 354.9,319.2 355.3,319.7 355.6,322.1 356.0,321.2 356.4,319.2 356.7,317.9 357.1,315.9 357.4,319.9 357.8,319.9 358.1,324.2 358.4,323.5 358.8,322.6 359.1,323.8 359.5,326.4 359.9,324.2 360.2,328.2 360.6,327.2 360.8,327.7 360.9,325.5 361.2,324.8 361.6,326.2 361.9,323.3 362.3,322.9 362.6,322.7 363.0,319.1 363.4,316.1 363.7,312.8 364.1,314.6 364.4,314.3 364.8,314.9 364.9,313.0 365.1,315.7 365.4,316.7 365.8,312.5 366.1,313.0 366.5,310.6 366.9,310.6 367.2,311.2 367.6,310.9 367.9,308.4 368.2,307.8 368.6,307.1 368.9,309.4 369.3,307.0 369.6,307.5 369.8,306.4 370.0,307.0 370.4,309.7 370.7,306.3 371.1,308.5 371.4,309.7 371.8,309.8 372.1,310.7 372.4,310.3 372.8,311.2 373.1,314.7 373.5,315.0 373.9,315.4 373.9,314.6 374.2,314.3 374.6,314.9 374.9,314.3 375.2,311.3 375.6,313.8 375.9,311.6 376.3,313.6 376.6,314.3 377.0,314.7 377.4,308.7 377.7,311.8 378.0,311.3 378.1,313.3 378.4,310.4 378.8,311.7 379.1,314.7 379.4,314.2 379.8,310.1 380.1,311.3 380.5,312.6 380.9,318.4 381.2,315.9 381.6,314.7 381.9,313.0 382.0,314.6 382.2,314.5 382.6,316.5 382.9,315.5 383.3,319.0 383.6,320.1 384.0,321.1 384.4,321.3 384.7,324.4 385.1,325.7 385.3,326.0 385.4,326.1 385.8,324.1 386.1,322.2 386.4,323.8 386.8,320.8 387.1,320.3 387.5,318.8 387.9,319.3 388.2,318.2 388.6,315.9 388.6,316.2 388.9,317.3 389.2,315.4 389.6,318.7 389.9,319.7 390.3,322.6 390.6,324.2 391.0,321.3 391.4,325.4 391.7,326.3 391.8,326.0 392.1,324.3 392.4,325.0 392.8,323.7 393.1,320.5 393.4,322.6 393.8,319.4 394.1,316.7 394.5,316.9 394.9,317.2 395.2,312.3 395.6,312.9 395.9,312.7 396.2,312.1 396.6,309.9 396.9,309.5 396.9,307.8 397.3,312.4 397.6,313.8 398.0,311.8 398.4,310.2 398.7,310.1 399.1,314.1 399.4,314.9 399.5,314.0 399.8,313.6 400.1,316.4 400.4,316.4 400.8,317.7 401.1,313.3 401.5,316.0 401.9,317.2 402.2,317.4 402.6,320.0 402.9,322.1 403.2,322.8 403.5,322.0 403.6,322.2 403.9,324.8 404.3,329.1 404.6,331.1 405.0,333.0 405.4,338.2 405.7,339.2 406.0,341.0 406.1,339.8 406.4,338.2 406.8,339.2 407.1,340.9 407.4,338.3 407.8,337.0 408.0,336.0 408.1,335.9 408.5,336.2 408.9,332.4 409.2,334.4 409.6,331.2 409.9,335.7 410.2,331.4 410.6,331.6 410.9,337.0 411.3,340.7 411.6,338.7 412.0,340.0 412.4,341.3 412.7,344.4 413.1,345.9 413.4,348.2 413.5,350.0 413.8,354.6 414.1,349.5 414.4,350.0 414.8,350.3 415.1,351.3 415.5,354.3 415.9,351.5 416.2,354.7 416.5,352.5 416.6,354.2 416.9,354.3 417.2,352.3 417.6,350.7 417.9,352.5 418.3,352.4 418.6,352.2 419.0,353.0 419.4,355.2 419.5,352.0 419.7,352.3 420.1,347.8 420.4,347.2 420.8,346.4 421.1,344.0 421.4,343.0 421.5,344.0 421.8,341.8 422.1,342.3 422.5,341.0 422.9,341.9 423.2,339.3 423.6,338.4 423.9,337.6 424.2,335.5 424.3,335.0 424.6,334.7 424.9,335.7 425.3,335.3 425.6,335.9 426.0,336.1 426.4,337.5 426.5,338.0 426.7,337.5 427.1,337.5 427.4,339.9 427.8,342.1 428.1,340.8 428.4,340.8 428.8,343.2 429.0,343.0 429.1,341.7 429.5,343.7 429.9,347.2 430.2,347.3 430.6,346.1 430.8,352.0 430.9,350.0 431.2,355.7 431.6,354.1 431.9,355.5 432.3,358.6 432.4,359.0 432.6,356.7 433.0,356.3 433.4,355.3 433.7,356.1 434.0,357.0 434.1,354.0 434.4,356.3 434.8,355.1 435.1,356.2 435.4,353.8 435.8,354.5 436.1,354.9 436.5,353.8 436.9,356.8 437.2,357.8 437.6,358.3 437.9,358.8 438.0,360.0 438.2,359.9 438.6,359.2 438.9,354.8 439.3,355.0 439.6,356.2 440.0,354.1 440.4,351.7 440.4,352.0 440.7,351.8 441.1,351.2 441.4,352.3 441.8,351.0 442.1,350.1 442.4,352.1 442.8,347.9 443.1,346.8 443.5,345.4 443.8,347.6 443.9,343.7 444.2,347.3 444.6,347.5 444.9,348.2 445.2,344.9 445.6,345.2 445.9,347.3 446.3,349.0 446.6,345.3 447.0,346.8 447.2,345.3 447.4,344.8 447.7,347.1 448.1,349.0 448.4,346.9 448.8,348.6 449.1,349.8 449.4,351.4 449.8,350.0 450.1,348.4 450.5,352.7 450.6,352.0 450.9,351.8 451.2,351.2 451.6,353.1 451.9,352.5 452.2,350.1 452.6,351.7 452.9,350.0 452.9,352.7 453.3,346.1 453.6,345.4 454.0,344.6 454.4,342.6 454.7,341.2 455.1,341.1 455.4,339.5 455.8,339.9 456.1,337.3 456.4,337.2 456.8,337.8 457.1,337.9 457.5,331.5 457.9,334.7 458.2,336.2 458.6,334.7 458.6,332.4 458.9,336.3 459.2,334.2 459.6,333.7 459.9,334.8 460.3,332.8 460.6,335.3 461.0,333.7 461.4,337.3 461.7,337.0 462.1,335.0 462.4,333.5 462.5,337.3 462.8,336.5 463.1,337.7 463.4,340.2 463.8,340.8 464.1,339.8 464.5,341.4 464.9,341.6 465.2,343.6 465.6,342.4 465.9,341.6 466.0,344.1 466.2,341.2 466.6,341.4 466.9,339.6 467.3,335.5 467.6,335.0 468.0,334.8 468.4,334.6 468.4,332.4 468.7,331.5 469.1,331.0 469.4,332.0 469.8,332.4 470.1,331.1 470.4,325.6 470.8,327.3 471.1,326.4 471.5,325.8 471.9,323.7 472.2,322.9 472.4,323.5 472.6,324.1 472.9,326.3 473.2,326.6 473.6,326.2 473.9,325.6 474.3,325.6 474.6,324.8 475.0,327.3 475.4,327.4 475.7,329.3 476.1,329.7 476.3,327.5 476.4,329.2 476.8,325.5 477.1,327.9 477.4,326.1 477.8,329.4 478.1,328.0 478.5,326.4 478.9,325.2 479.2,326.7 479.6,327.1 479.9,328.6 480.2,327.5 480.6,325.9 480.9,324.1 481.2,327.5 481.3,325.7 481.6,327.0 482.0,323.9 482.4,325.7 482.7,326.4 483.1,325.3 483.4,323.1 483.8,321.5 484.1,321.8 484.4,320.6 484.8,321.7 485.1,320.6 485.1,322.1 485.5,318.0 485.9,319.6 486.2,320.5 486.6,319.9 486.9,321.4 487.2,317.0 487.6,317.5 487.9,315.5 488.3,314.4 488.6,312.9 489.0,315.7 489.4,315.6 489.7,317.2 490.1,316.8 490.4,315.1 490.8,311.3 491.1,315.2 491.4,312.9 491.8,314.9 492.0,312.3 492.1,314.8 492.5,314.7 492.9,310.6 493.2,311.5 493.6,312.9 493.9,311.6 494.2,313.3 494.6,313.0 494.9,312.7 494.9,315.5 495.3,314.1 495.6,312.5 496.0,314.5 496.4,315.9 496.7,319.0 497.1,321.6 497.4,322.7 497.8,321.6 497.8,321.6 498.1,323.4 498.2,322.5 498.4,324.3 498.8,323.4 499.1,321.2 499.5,317.0 499.9,318.1 500.2,316.3 500.6,316.1 500.9,318.0 501.2,317.5 501.6,315.4 501.9,315.2 502.3,316.5 502.6,319.1 502.7,318.0 503.0,317.9 503.4,316.7 503.7,320.7 504.1,319.5 504.4,319.3 504.8,319.6 505.1,320.4 505.4,318.6 505.8,321.5 506.1,323.6 506.5,324.4 506.9,328.7 507.2,327.0 507.6,326.1 507.9,324.5 508.2,324.2 508.6,325.3 508.9,323.7 509.2,323.7 509.3,324.1 509.6,321.2 510.0,322.7 510.4,320.7 510.7,321.6 511.1,323.6 511.4,320.9 511.7,318.8 511.8,319.9 512.1,318.9 512.5,317.0 512.8,315.5 513.1,313.2 513.5,314.2 513.9,314.2 514.1,312.3 514.2,309.9 514.5,313.2 514.9,310.1 515.2,306.3 515.6,311.0 516.0,307.3 516.3,306.8 516.6,306.5 516.6,308.5 517.0,307.3 517.4,306.9 517.7,303.8 518.0,303.2 518.4,302.0 518.8,300.2 518.9,298.8 519.1,300.4 519.5,298.8 519.8,297.5 520.1,298.3 520.5,295.6 520.9,295.9 521.2,293.9 521.5,294.1 521.9,294.3 522.2,292.8 522.6,290.6 522.8,292.3 523.0,291.4 523.3,293.3 523.6,293.5 524.0,293.6 524.4,289.7 524.7,295.1 525.0,291.9 525.4,291.8 525.8,292.4 526.1,292.5 526.5,294.5 526.8,291.2 527.1,293.4 527.5,290.2 527.9,290.4 528.1,292.3 528.2,292.4 528.5,290.0 528.9,293.2 529.2,292.8 529.6,292.1 530.0,289.0 530.3,290.5 530.6,288.4 531.0,286.9 531.4,286.6 531.7,286.7 532.0,285.8 532.0,286.8 532.4,282.7 532.8,284.7 533.1,282.6 533.5,279.5 533.8,282.3 534.1,280.0 534.5,279.7 534.9,276.7 535.2,277.3 535.5,275.3 535.9,275.3 536.2,276.1 536.6,273.2 537.0,271.5 537.3,271.7 537.6,266.6 538.0,268.6 538.4,267.3 538.5,264.8 538.7,265.4 539.0,264.3 539.4,264.2 539.8,261.8 540.1,262.4 540.5,263.7 540.8,261.6 541.1,260.9 541.1,259.0 541.5,258.7 541.9,260.4 542.2,259.6 542.5,257.0 542.9,254.9 543.2,258.2 543.6,260.9 544.0,255.0 544.3,251.1 544.6,257.2 545.0,255.7 545.4,256.4 545.7,258.7 546.0,256.4 546.4,261.0 546.8,264.0 547.1,263.4 547.5,264.0 547.7,266.1 547.8,268.1 548.1,266.3 548.5,266.7 548.9,261.1 549.2,261.7 549.5,263.4 549.9,264.1 550.2,260.7 550.3,259.6 550.6,258.2 551.0,257.4 551.3,258.2 551.6,257.1 552.0,255.5 552.4,252.8 552.7,250.0 552.9,250.5 553.0,249.2 553.4,248.0 553.8,249.4 554.1,251.6 554.5,252.3 554.8,252.6 555.1,252.2 555.5,251.8 555.9,248.9 556.2,249.7 556.5,251.1 556.8,250.5 556.9,251.1 557.2,254.3 557.6,252.5 558.0,252.8 558.3,249.7 558.6,251.2 559.0,251.9 559.4,250.9 559.7,250.5 560.0,247.2 560.4,249.1 560.8,247.0 561.1,248.8 561.5,249.9 561.8,245.2 562.1,243.0 562.5,239.9 562.9,241.7 563.2,241.8 563.5,239.4 563.9,242.4 564.2,240.5 564.4,238.8 564.6,239.7 565.0,241.7 565.3,239.7 565.6,244.6 566.0,246.2 566.4,243.6 566.7,245.2 567.0,246.8 567.4,246.8 567.8,249.0 568.1,249.1 568.5,247.6 568.8,243.8 569.1,248.2 569.5,244.2 569.9,244.3 570.2,242.5 570.5,239.2 570.9,239.8 571.2,237.2 571.6,239.2 571.8,238.8 572.0,236.6 572.3,238.6 572.6,242.6 573.0,240.8 573.4,240.9 573.7,246.4 574.0,244.2 574.4,249.7 574.7,247.6 574.8,246.4 575.1,242.4 575.5,245.4 575.8,240.2 576.1,242.7 576.5,242.9 576.9,236.0 577.2,234.3 577.5,230.0 577.9,233.3 578.2,232.3 578.4,230.0 578.6,227.8 579.0,229.6 579.3,231.4 579.6,229.0 580.0,227.9 580.4,227.3 580.7,226.8 581.0,224.5 581.4,225.1 581.8,225.4 582.0,224.1 582.1,226.3 582.5,226.3 582.8,223.6 583.1,220.9 583.5,221.3 583.9,223.0 584.2,225.9 584.5,220.1 584.9,220.7 585.2,221.2 585.6,222.9 585.7,218.2 586.0,218.5 586.3,215.4 586.6,214.6 587.0,214.1 587.4,213.9 587.7,210.8 588.0,207.9 588.4,213.7 588.8,211.8 589.1,207.2 589.4,207.9 589.5,205.6 589.8,207.6 590.1,206.9 590.5,202.7 590.9,206.9 591.2,204.4 591.5,204.5 591.9,206.2 592.2,204.8 592.6,203.3 593.0,202.9 593.3,200.7 593.6,196.1 593.8,201.3 594.0,198.6 594.4,203.5 594.7,207.0 595.0,203.4 595.4,205.6 595.8,206.5 596.1,204.7 596.5,213.5 596.8,210.9 597.1,213.1 597.5,210.9 597.9,209.9 598.2,209.8 598.5,206.6 598.9,210.9 599.2,208.0 599.6,206.2 600.0,206.3 600.3,204.9 600.4,205.0 600.6,202.4 601.0,203.5 601.4,200.0 601.7,200.8 602.0,201.2 602.4,194.0 602.6,196.9 602.8,196.7 603.1,196.4 603.5,194.8 603.8,192.2 604.1,195.5 604.5,197.3 604.9,192.8 605.2,193.8 605.5,194.4 605.9,194.2 606.2,192.2 606.6,195.3 607.0,196.1 607.3,192.0 607.6,190.7 607.8,191.8 608.0,195.5 608.4,194.6 608.7,196.1 609.0,196.5 609.4,199.7 609.8,200.7 610.1,202.2 610.5,207.1 610.7,206.5 610.8,208.6 611.1,208.2 611.5,211.9 611.9,210.1 612.2,213.2 612.5,216.2 612.9,213.8 613.2,211.3 613.6,209.7 614.0,200.7 614.3,203.0 614.6,205.8 615.0,204.5 615.1,202.1 615.4,207.0 615.7,216.1 616.0,220.5 616.4,227.0 616.6,233.0 616.8,230.9 617.1,229.7 617.5,221.8 617.8,217.0 618.1,214.4 618.5,216.7 618.9,213.1 619.1,205.4 619.2,201.8 619.5,198.2 619.9,201.7 620.2,198.3 620.6,197.1 621.0,195.1 621.3,194.8 621.5,194.0 621.6,196.4 622.0,192.9 622.4,187.1 622.7,191.6 623.0,186.3 623.4,186.6 623.8,186.2 624.1,185.2 624.5,183.2 624.8,180.8 625.1,176.8 625.5,177.5 625.9,179.3 626.2,178.6 626.5,176.2 626.9,179.6 627.2,178.9 627.6,175.1 628.0,182.5 628.0,179.2 628.3,177.3 628.6,180.2 629.0,177.9 629.4,176.5 629.7,174.7 630.0,174.3 630.4,174.0 630.8,175.8 631.1,172.5 631.3,174.3 631.5,173.2 631.8,171.9 632.1,170.4 632.5,168.5 632.9,169.4 633.2,170.5 633.5,170.0 633.9,170.9 634.2,169.5 634.6,167.8 635.0,169.0 635.3,166.4 635.6,164.5 636.0,162.9 636.4,159.4 636.7,159.6 637.0,159.0 637.4,157.3 637.8,159.9 637.9,159.6 638.1,161.6 638.5,158.3 638.8,163.3 639.1,161.8 639.5,159.8 639.9,161.4 640.2,162.1 640.5,161.0 640.5,157.1 640.9,156.5 641.2,161.3 641.6,164.1 642.0,159.4 642.3,161.5 642.6,165.3 643.0,162.2 643.3,156.7 643.4,151.9 643.7,154.9 644.0,156.8 644.4,154.8 644.8,151.2 645.1,148.7 645.5,148.7 645.8,150.4 646.1,150.4 646.5,146.9 646.9,145.9 647.2,146.3 647.5,144.4 647.9,143.3 648.2,139.8 648.6,138.8 649.0,138.4 649.3,137.3 649.6,130.4 649.8,137.1 650.0,131.1 650.4,134.5 650.7,132.2 651.0,126.2 651.4,128.5 651.8,131.9 652.1,131.3 652.5,128.2 652.8,122.2 653.1,124.0 653.1,123.3 653.5,118.2 653.9,117.4 654.2,123.4 654.5,118.6 654.9,117.5 655.2,117.3 655.6,117.8 656.0,113.0 656.3,115.8 656.6,115.4 657.0,115.5 657.4,122.4 657.7,121.9 658.0,113.6 658.4,122.9 658.8,128.3 658.8,127.3 659.1,124.3 659.5,124.2 659.8,118.1 660.1,117.8 660.5,124.0 660.9,128.6 661.2,122.4 661.5,126.3 661.9,131.4 662.2,134.4 662.6,136.2 662.9,138.7 663.0,144.2 663.3,138.3 663.6,136.7 664.0,130.5 664.4,131.1 664.7,128.7 665.0,128.6 665.3,125.7 665.4,123.5 665.8,123.6 666.1,131.1 666.5,123.4 666.8,123.4 667.1,121.7 667.5,121.9 667.8,122.4 667.9,120.8 668.2,122.9 668.5,122.5 668.9,118.8 669.2,120.9 669.6,115.4 670.0,120.1 670.3,120.1 670.6,118.7 671.0,114.2 671.4,109.7 671.7,109.3 672.0,111.1 672.4,108.5 672.8,107.6 673.1,111.4 673.5,111.6 673.5,107.7 673.8,109.9 674.1,107.3 674.5,100.1 674.9,99.9 675.1,99.5 675.2,100.7 675.5,87.5 675.9,90.9 676.0,86.4"/>
</g>
<g stroke-width="3" stroke-linecap="round">
<line x1="169.3" y1="75.4" x2="198.7" y2="75.4" stroke="#0562bb"/>
<line x1="169.3" y1="125.4" x2="198.7" y2="125.4" stroke="#ff0000"/>
<line x1="169.3" y1="174.9" x2="198.7" y2="174.9" stroke="#0ab0f0"/>
</g>
<g font-family="Carlito, 'Liberation Sans', sans-serif" font-size="15.5" fill="#1a1a1a">
<text transform="translate(201.8,80.8)" textLength="28.56" lengthAdjust="spacingAndGlyphs">KISS</text>
<text transform="translate(201.8,100.9)" textLength="332.60" lengthAdjust="spacingAndGlyphs">(Sharpe Ratio = 1; Calmar Ratio = 1.4; Beta = 0.7)</text>
<text transform="translate(201.8,130.2)" textLength="40.79" lengthAdjust="spacingAndGlyphs">60/40</text>
<text transform="translate(201.8,150.6)" textLength="345.43" lengthAdjust="spacingAndGlyphs">(Sharpe Ratio = 0.5; Calmar Ratio = 0.4; Beta = 0.7)</text>
<text transform="translate(201.8,179.2)" textLength="204.26" lengthAdjust="spacingAndGlyphs">60/30/10 Stocks/Gold/Bitcoin</text>
<text transform="translate(201.8,200.5)" textLength="345.43" lengthAdjust="spacingAndGlyphs">(Sharpe Ratio = 0.8; Calmar Ratio = 0.7; Beta = 1.2)</text>
</g>
<path d="M97.4,494.2 L135.3,494.2 L161.8,442.6 L154.8,494.2 L161.8,494.2 Q165.8,494.2 165.8,498.2 L165.8,512.5 Q165.8,516.5 161.8,516.5 L97.4,516.5 Q93.4,516.5 93.4,512.5 L93.4,498.2 Q93.4,494.2 97.4,494.2 Z" fill="#00b0f0" stroke="#0070c0" stroke-width="2" stroke-linejoin="round"/>
<text transform="translate(129.6,511.5)" text-anchor="middle" font-family="Carlito, 'Liberation Sans', sans-serif" font-weight="bold" font-size="17" textLength="34.84" lengthAdjust="spacingAndGlyphs" fill="#a0284f" stroke="#a0284f" stroke-width="4.2" stroke-linejoin="round" filter="url(#gb)">-19%</text>
<text transform="translate(129.6,511.5)" text-anchor="middle" font-family="Carlito, 'Liberation Sans', sans-serif" font-weight="bold" font-size="17" textLength="34.84" lengthAdjust="spacingAndGlyphs" fill="#fff">-19%</text>
<path d="M142.5,357.1 L206.8,357.1 Q210.8,357.1 210.8,361.1 L210.8,374.6 Q210.8,378.6 206.8,378.6 L197.1,378.6 L249.4,422.6 L180.6,378.6 L142.5,378.6 Q138.5,378.6 138.5,374.6 L138.5,361.1 Q138.5,357.1 142.5,357.1 Z" fill="#0070c0" stroke="#002060" stroke-width="2" stroke-linejoin="round"/>
<text transform="translate(174.7,374.0)" text-anchor="middle" font-family="Carlito, 'Liberation Sans', sans-serif" font-weight="bold" font-size="17" textLength="34.84" lengthAdjust="spacingAndGlyphs" fill="#a0284f" stroke="#a0284f" stroke-width="4.2" stroke-linejoin="round" filter="url(#gb)">-13%</text>
<text transform="translate(174.7,374.0)" text-anchor="middle" font-family="Carlito, 'Liberation Sans', sans-serif" font-weight="bold" font-size="17" textLength="34.84" lengthAdjust="spacingAndGlyphs" fill="#fff">-13%</text>
<path d="M234.9,491.5 L243.4,491.5 L254.4,441.0 L261.8,491.5 L300.4,491.5 Q304.4,491.5 304.4,495.5 L304.4,508.6 Q304.4,512.6 300.4,512.6 L234.9,512.6 Q230.9,512.6 230.9,508.6 L230.9,495.5 Q230.9,491.5 234.9,491.5 Z" fill="#00b0f0" stroke="#0070c0" stroke-width="2" stroke-linejoin="round"/>
<text transform="translate(267.6,508.2)" text-anchor="middle" font-family="Carlito, 'Liberation Sans', sans-serif" font-weight="bold" font-size="17" textLength="34.84" lengthAdjust="spacingAndGlyphs" fill="#a0284f" stroke="#a0284f" stroke-width="4.2" stroke-linejoin="round" filter="url(#gb)">-25%</text>
<text transform="translate(267.6,508.2)" text-anchor="middle" font-family="Carlito, 'Liberation Sans', sans-serif" font-weight="bold" font-size="17" textLength="34.84" lengthAdjust="spacingAndGlyphs" fill="#fff">-25%</text>
<path d="M341.0,462.0 L346.0,462.0 L264.8,434.0 L369.0,462.0 L406.6,462.0 Q410.6,462.0 410.6,466.0 L410.6,480.3 Q410.6,484.3 406.6,484.3 L341.0,484.3 Q337.0,484.3 337.0,480.3 L337.0,466.0 Q337.0,462.0 341.0,462.0 Z" fill="#ff0000" stroke="#c00000" stroke-width="2" stroke-linejoin="round"/>
<text transform="translate(373.8,479.2)" text-anchor="middle" font-family="Carlito, 'Liberation Sans', sans-serif" font-weight="bold" font-size="17" textLength="34.84" lengthAdjust="spacingAndGlyphs" fill="#c80000" stroke="#c80000" stroke-width="4.2" stroke-linejoin="round" filter="url(#gb)">-22%</text>
<text transform="translate(373.8,479.2)" text-anchor="middle" font-family="Carlito, 'Liberation Sans', sans-serif" font-weight="bold" font-size="17" textLength="34.84" lengthAdjust="spacingAndGlyphs" fill="#fff">-22%</text>
<path d="M462.3,462.4 L470.3,462.4 L449.2,410.3 L489.2,462.4 L527.0,462.4 Q531.0,462.4 531.0,466.4 L531.0,480.4 Q531.0,484.4 527.0,484.4 L462.3,484.4 Q458.3,484.4 458.3,480.4 L458.3,466.4 Q458.3,462.4 462.3,462.4 Z" fill="#ff0000" stroke="#c00000" stroke-width="2" stroke-linejoin="round"/>
<text transform="translate(494.6,479.5)" text-anchor="middle" font-family="Carlito, 'Liberation Sans', sans-serif" font-weight="bold" font-size="17" textLength="34.84" lengthAdjust="spacingAndGlyphs" fill="#c80000" stroke="#c80000" stroke-width="4.2" stroke-linejoin="round" filter="url(#gb)">-22%</text>
<text transform="translate(494.6,479.5)" text-anchor="middle" font-family="Carlito, 'Liberation Sans', sans-serif" font-weight="bold" font-size="17" textLength="34.84" lengthAdjust="spacingAndGlyphs" fill="#fff">-22%</text>
<path d="M522.2,419.5 L530.0,419.5 L449.6,368.7 L548.3,419.5 L586.4,419.5 Q590.4,419.5 590.4,423.5 L590.4,437.2 Q590.4,441.2 586.4,441.2 L522.2,441.2 Q518.2,441.2 518.2,437.2 L518.2,423.5 Q518.2,419.5 522.2,419.5 Z" fill="#00b0f0" stroke="#0070c0" stroke-width="2" stroke-linejoin="round"/>
<text transform="translate(554.3,436.5)" text-anchor="middle" font-family="Carlito, 'Liberation Sans', sans-serif" font-weight="bold" font-size="17" textLength="34.84" lengthAdjust="spacingAndGlyphs" fill="#a0284f" stroke="#a0284f" stroke-width="4.2" stroke-linejoin="round" filter="url(#gb)">-25%</text>
<text transform="translate(554.3,436.5)" text-anchor="middle" font-family="Carlito, 'Liberation Sans', sans-serif" font-weight="bold" font-size="17" textLength="34.84" lengthAdjust="spacingAndGlyphs" fill="#fff">-25%</text>
<g font-family="Carlito, 'Liberation Sans', sans-serif" font-weight="bold" font-size="19.3" fill="#000" text-anchor="middle">
<text transform="translate(356.5,17.9)" textLength="356.99" lengthAdjust="spacingAndGlyphs">Hypothetical Performance of a $100,000</text>
<text transform="translate(355.8,43.8)" textLength="272.03" lengthAdjust="spacingAndGlyphs">Portfolio Since January 1, 2018</text>
</g>
<text transform="translate(259,602.8)" font-family="'Liberation Sans', Arial, sans-serif" font-size="18.7" fill="#000" textLength="185.43" lengthAdjust="spacingAndGlyphs">Data through 1/31/26</text>
</svg>
</body></html>
